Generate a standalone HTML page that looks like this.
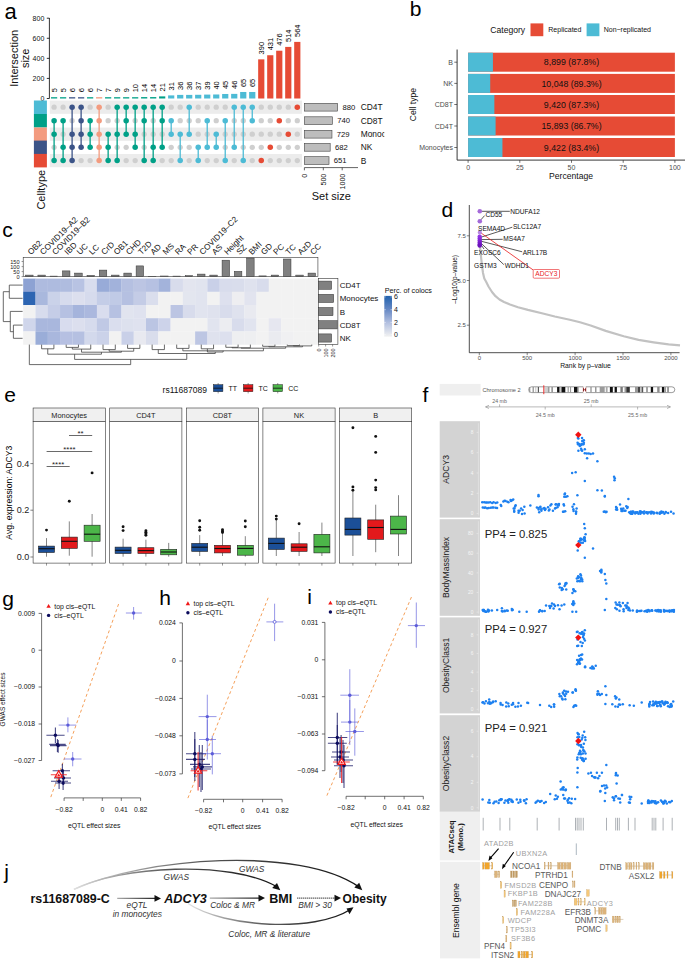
<!DOCTYPE html>
<html><head><meta charset="utf-8"><title>Figure</title>
<style>html,body{margin:0;padding:0;background:#fff;}svg{display:block;font-family:"Liberation Sans",sans-serif;}</style>
</head><body>
<svg width="685" height="964" viewBox="0 0 685 964">
<rect width="685" height="964" fill="#fff"/>
<text x="4.5" y="18.8" font-size="22" fill="#000">a</text>
<line x1="49.4" y1="18" x2="49.4" y2="98.5" stroke="#000" stroke-width="0.8"/>
<line x1="46.8" y1="98.5" x2="49.4" y2="98.5" stroke="#000" stroke-width="0.8"/>
<text x="44.3" y="101" font-size="7" text-anchor="end" fill="#111">0</text>
<line x1="46.8" y1="78.42" x2="49.4" y2="78.42" stroke="#000" stroke-width="0.8"/>
<text x="44.3" y="80.92" font-size="7" text-anchor="end" fill="#111">200</text>
<line x1="46.8" y1="58.35" x2="49.4" y2="58.35" stroke="#000" stroke-width="0.8"/>
<text x="44.3" y="60.85" font-size="7" text-anchor="end" fill="#111">400</text>
<line x1="46.8" y1="38.28" x2="49.4" y2="38.28" stroke="#000" stroke-width="0.8"/>
<text x="44.3" y="40.78" font-size="7" text-anchor="end" fill="#111">600</text>
<line x1="46.8" y1="18.2" x2="49.4" y2="18.2" stroke="#000" stroke-width="0.8"/>
<text x="44.3" y="20.7" font-size="7" text-anchor="end" fill="#111">800</text>
<text transform="translate(17.6,58.3) rotate(-90)" font-size="11" text-anchor="middle" fill="#111">Intersection</text>
<text transform="translate(29.4,58.3) rotate(-90)" font-size="11" text-anchor="middle" fill="#111">size</text>
<rect x="49.8" y="100.6" width="252.2" height="13.2" fill="#ececec"/>
<rect x="49.8" y="127.6" width="252.2" height="13.2" fill="#ececec"/>
<rect x="49.8" y="154" width="252.2" height="13.2" fill="#ececec"/>
<rect x="51" y="97.2" width="6.2" height="1.3" fill="#00A087"/>
<text transform="translate(56.8,92.3) rotate(-90)" font-size="7.5" fill="#000">5</text>
<circle cx="54.1" cy="107.2" r="2.65" fill="#cfcfcf"/>
<circle cx="54.1" cy="147.3" r="2.65" fill="#cfcfcf"/>
<line x1="54.1" y1="120.7" x2="54.1" y2="160.6" stroke="#00A087" stroke-width="1.3"/>
<circle cx="54.1" cy="120.7" r="2.75" fill="#00A087"/>
<circle cx="54.1" cy="134.2" r="2.75" fill="#00A087"/>
<circle cx="54.1" cy="160.6" r="2.75" fill="#00A087"/>
<rect x="60.01" y="97.2" width="6.2" height="1.3" fill="#00A087"/>
<text transform="translate(65.81,92.3) rotate(-90)" font-size="7.5" fill="#000">5</text>
<circle cx="63.11" cy="107.2" r="2.65" fill="#cfcfcf"/>
<circle cx="63.11" cy="134.2" r="2.65" fill="#cfcfcf"/>
<line x1="63.11" y1="120.7" x2="63.11" y2="160.6" stroke="#00A087" stroke-width="1.3"/>
<circle cx="63.11" cy="120.7" r="2.75" fill="#00A087"/>
<circle cx="63.11" cy="147.3" r="2.75" fill="#00A087"/>
<circle cx="63.11" cy="160.6" r="2.75" fill="#00A087"/>
<rect x="69.01" y="97.2" width="6.2" height="1.3" fill="#3C5488"/>
<text transform="translate(74.81,92.3) rotate(-90)" font-size="7.5" fill="#000">6</text>
<circle cx="72.11" cy="120.7" r="2.65" fill="#cfcfcf"/>
<line x1="72.11" y1="107.2" x2="72.11" y2="160.6" stroke="#3C5488" stroke-width="1.3"/>
<circle cx="72.11" cy="107.2" r="2.75" fill="#3C5488"/>
<circle cx="72.11" cy="134.2" r="2.75" fill="#3C5488"/>
<circle cx="72.11" cy="147.3" r="2.75" fill="#3C5488"/>
<circle cx="72.11" cy="160.6" r="2.75" fill="#3C5488"/>
<rect x="78.02" y="97.2" width="6.2" height="1.3" fill="#3C5488"/>
<text transform="translate(83.82,92.3) rotate(-90)" font-size="7.5" fill="#000">6</text>
<circle cx="81.12" cy="160.6" r="2.65" fill="#cfcfcf"/>
<line x1="81.12" y1="107.2" x2="81.12" y2="147.3" stroke="#3C5488" stroke-width="1.3"/>
<circle cx="81.12" cy="107.2" r="2.75" fill="#3C5488"/>
<circle cx="81.12" cy="120.7" r="2.75" fill="#3C5488"/>
<circle cx="81.12" cy="134.2" r="2.75" fill="#3C5488"/>
<circle cx="81.12" cy="147.3" r="2.75" fill="#3C5488"/>
<rect x="87.03" y="97.2" width="6.2" height="1.3" fill="#00A087"/>
<text transform="translate(92.83,92.3) rotate(-90)" font-size="7.5" fill="#000">6</text>
<circle cx="90.13" cy="107.2" r="2.65" fill="#cfcfcf"/>
<circle cx="90.13" cy="160.6" r="2.65" fill="#cfcfcf"/>
<line x1="90.13" y1="120.7" x2="90.13" y2="147.3" stroke="#00A087" stroke-width="1.3"/>
<circle cx="90.13" cy="120.7" r="2.75" fill="#00A087"/>
<circle cx="90.13" cy="134.2" r="2.75" fill="#00A087"/>
<circle cx="90.13" cy="147.3" r="2.75" fill="#00A087"/>
<rect x="96.03" y="97.2" width="6.2" height="1.3" fill="#F39B7F"/>
<text transform="translate(101.83,92.3) rotate(-90)" font-size="7.5" fill="#000">7</text>
<line x1="99.13" y1="107.2" x2="99.13" y2="160.6" stroke="#F39B7F" stroke-width="1.3"/>
<circle cx="99.13" cy="107.2" r="2.75" fill="#F39B7F"/>
<circle cx="99.13" cy="120.7" r="2.75" fill="#F39B7F"/>
<circle cx="99.13" cy="134.2" r="2.75" fill="#F39B7F"/>
<circle cx="99.13" cy="147.3" r="2.75" fill="#F39B7F"/>
<circle cx="99.13" cy="160.6" r="2.75" fill="#F39B7F"/>
<rect x="105.04" y="97.2" width="6.2" height="1.3" fill="#00A087"/>
<text transform="translate(110.84,92.3) rotate(-90)" font-size="7.5" fill="#000">7</text>
<circle cx="108.14" cy="107.2" r="2.65" fill="#cfcfcf"/>
<circle cx="108.14" cy="120.7" r="2.65" fill="#cfcfcf"/>
<line x1="108.14" y1="134.2" x2="108.14" y2="160.6" stroke="#00A087" stroke-width="1.3"/>
<circle cx="108.14" cy="134.2" r="2.75" fill="#00A087"/>
<circle cx="108.14" cy="147.3" r="2.75" fill="#00A087"/>
<circle cx="108.14" cy="160.6" r="2.75" fill="#00A087"/>
<rect x="114.05" y="97.2" width="6.2" height="1.3" fill="#00A087"/>
<text transform="translate(119.85,92.3) rotate(-90)" font-size="7.5" fill="#000">9</text>
<circle cx="117.15" cy="120.7" r="2.65" fill="#cfcfcf"/>
<circle cx="117.15" cy="147.3" r="2.65" fill="#cfcfcf"/>
<line x1="117.15" y1="107.2" x2="117.15" y2="160.6" stroke="#00A087" stroke-width="1.3"/>
<circle cx="117.15" cy="107.2" r="2.75" fill="#00A087"/>
<circle cx="117.15" cy="134.2" r="2.75" fill="#00A087"/>
<circle cx="117.15" cy="160.6" r="2.75" fill="#00A087"/>
<rect x="123.06" y="97.2" width="6.2" height="1.3" fill="#00A087"/>
<text transform="translate(128.86,92.3) rotate(-90)" font-size="7.5" fill="#000">9</text>
<circle cx="126.16" cy="147.3" r="2.65" fill="#cfcfcf"/>
<circle cx="126.16" cy="160.6" r="2.65" fill="#cfcfcf"/>
<line x1="126.16" y1="107.2" x2="126.16" y2="134.2" stroke="#00A087" stroke-width="1.3"/>
<circle cx="126.16" cy="107.2" r="2.75" fill="#00A087"/>
<circle cx="126.16" cy="120.7" r="2.75" fill="#00A087"/>
<circle cx="126.16" cy="134.2" r="2.75" fill="#00A087"/>
<rect x="132.06" y="97.2" width="6.2" height="1.3" fill="#00A087"/>
<text transform="translate(137.86,92.3) rotate(-90)" font-size="7.5" fill="#000">10</text>
<circle cx="135.16" cy="120.7" r="2.65" fill="#cfcfcf"/>
<circle cx="135.16" cy="160.6" r="2.65" fill="#cfcfcf"/>
<line x1="135.16" y1="107.2" x2="135.16" y2="147.3" stroke="#00A087" stroke-width="1.3"/>
<circle cx="135.16" cy="107.2" r="2.75" fill="#00A087"/>
<circle cx="135.16" cy="134.2" r="2.75" fill="#00A087"/>
<circle cx="135.16" cy="147.3" r="2.75" fill="#00A087"/>
<rect x="141.07" y="97.09" width="6.2" height="1.41" fill="#00A087"/>
<text transform="translate(146.87,92.19) rotate(-90)" font-size="7.5" fill="#000">14</text>
<circle cx="144.17" cy="134.2" r="2.65" fill="#cfcfcf"/>
<circle cx="144.17" cy="147.3" r="2.65" fill="#cfcfcf"/>
<line x1="144.17" y1="107.2" x2="144.17" y2="160.6" stroke="#00A087" stroke-width="1.3"/>
<circle cx="144.17" cy="107.2" r="2.75" fill="#00A087"/>
<circle cx="144.17" cy="120.7" r="2.75" fill="#00A087"/>
<circle cx="144.17" cy="160.6" r="2.75" fill="#00A087"/>
<rect x="150.08" y="97.09" width="6.2" height="1.41" fill="#00A087"/>
<text transform="translate(155.88,92.19) rotate(-90)" font-size="7.5" fill="#000">14</text>
<circle cx="153.18" cy="120.7" r="2.65" fill="#cfcfcf"/>
<circle cx="153.18" cy="134.2" r="2.65" fill="#cfcfcf"/>
<line x1="153.18" y1="107.2" x2="153.18" y2="160.6" stroke="#00A087" stroke-width="1.3"/>
<circle cx="153.18" cy="107.2" r="2.75" fill="#00A087"/>
<circle cx="153.18" cy="147.3" r="2.75" fill="#00A087"/>
<circle cx="153.18" cy="160.6" r="2.75" fill="#00A087"/>
<rect x="159.08" y="96.39" width="6.2" height="2.11" fill="#00A087"/>
<text transform="translate(164.88,91.49) rotate(-90)" font-size="7.5" fill="#000">21</text>
<circle cx="162.18" cy="134.2" r="2.65" fill="#cfcfcf"/>
<circle cx="162.18" cy="160.6" r="2.65" fill="#cfcfcf"/>
<line x1="162.18" y1="107.2" x2="162.18" y2="147.3" stroke="#00A087" stroke-width="1.3"/>
<circle cx="162.18" cy="107.2" r="2.75" fill="#00A087"/>
<circle cx="162.18" cy="120.7" r="2.75" fill="#00A087"/>
<circle cx="162.18" cy="147.3" r="2.75" fill="#00A087"/>
<rect x="168.09" y="95.39" width="6.2" height="3.11" fill="#4DBBD5"/>
<text transform="translate(173.89,90.49) rotate(-90)" font-size="7.5" fill="#000">31</text>
<circle cx="171.19" cy="107.2" r="2.65" fill="#cfcfcf"/>
<circle cx="171.19" cy="147.3" r="2.65" fill="#cfcfcf"/>
<circle cx="171.19" cy="160.6" r="2.65" fill="#cfcfcf"/>
<line x1="171.19" y1="120.7" x2="171.19" y2="134.2" stroke="#4DBBD5" stroke-width="1.3"/>
<circle cx="171.19" cy="120.7" r="2.75" fill="#4DBBD5"/>
<circle cx="171.19" cy="134.2" r="2.75" fill="#4DBBD5"/>
<rect x="177.1" y="94.89" width="6.2" height="3.61" fill="#4DBBD5"/>
<text transform="translate(182.9,89.99) rotate(-90)" font-size="7.5" fill="#000">36</text>
<circle cx="180.2" cy="107.2" r="2.65" fill="#cfcfcf"/>
<circle cx="180.2" cy="120.7" r="2.65" fill="#cfcfcf"/>
<circle cx="180.2" cy="147.3" r="2.65" fill="#cfcfcf"/>
<line x1="180.2" y1="134.2" x2="180.2" y2="160.6" stroke="#4DBBD5" stroke-width="1.3"/>
<circle cx="180.2" cy="134.2" r="2.75" fill="#4DBBD5"/>
<circle cx="180.2" cy="160.6" r="2.75" fill="#4DBBD5"/>
<rect x="186.1" y="94.89" width="6.2" height="3.61" fill="#4DBBD5"/>
<text transform="translate(191.9,89.99) rotate(-90)" font-size="7.5" fill="#000">36</text>
<circle cx="189.2" cy="120.7" r="2.65" fill="#cfcfcf"/>
<circle cx="189.2" cy="147.3" r="2.65" fill="#cfcfcf"/>
<circle cx="189.2" cy="160.6" r="2.65" fill="#cfcfcf"/>
<line x1="189.2" y1="107.2" x2="189.2" y2="134.2" stroke="#4DBBD5" stroke-width="1.3"/>
<circle cx="189.2" cy="107.2" r="2.75" fill="#4DBBD5"/>
<circle cx="189.2" cy="134.2" r="2.75" fill="#4DBBD5"/>
<rect x="195.11" y="94.79" width="6.2" height="3.71" fill="#4DBBD5"/>
<text transform="translate(200.91,89.89) rotate(-90)" font-size="7.5" fill="#000">37</text>
<circle cx="198.21" cy="107.2" r="2.65" fill="#cfcfcf"/>
<circle cx="198.21" cy="120.7" r="2.65" fill="#cfcfcf"/>
<circle cx="198.21" cy="134.2" r="2.65" fill="#cfcfcf"/>
<line x1="198.21" y1="147.3" x2="198.21" y2="160.6" stroke="#4DBBD5" stroke-width="1.3"/>
<circle cx="198.21" cy="147.3" r="2.75" fill="#4DBBD5"/>
<circle cx="198.21" cy="160.6" r="2.75" fill="#4DBBD5"/>
<rect x="204.12" y="94.59" width="6.2" height="3.91" fill="#4DBBD5"/>
<text transform="translate(209.92,89.69) rotate(-90)" font-size="7.5" fill="#000">39</text>
<circle cx="207.22" cy="107.2" r="2.65" fill="#cfcfcf"/>
<circle cx="207.22" cy="134.2" r="2.65" fill="#cfcfcf"/>
<circle cx="207.22" cy="160.6" r="2.65" fill="#cfcfcf"/>
<line x1="207.22" y1="120.7" x2="207.22" y2="147.3" stroke="#4DBBD5" stroke-width="1.3"/>
<circle cx="207.22" cy="120.7" r="2.75" fill="#4DBBD5"/>
<circle cx="207.22" cy="147.3" r="2.75" fill="#4DBBD5"/>
<rect x="213.13" y="94.48" width="6.2" height="4.01" fill="#4DBBD5"/>
<text transform="translate(218.93,89.58) rotate(-90)" font-size="7.5" fill="#000">40</text>
<circle cx="216.23" cy="107.2" r="2.65" fill="#cfcfcf"/>
<circle cx="216.23" cy="120.7" r="2.65" fill="#cfcfcf"/>
<circle cx="216.23" cy="160.6" r="2.65" fill="#cfcfcf"/>
<line x1="216.23" y1="134.2" x2="216.23" y2="147.3" stroke="#4DBBD5" stroke-width="1.3"/>
<circle cx="216.23" cy="134.2" r="2.75" fill="#4DBBD5"/>
<circle cx="216.23" cy="147.3" r="2.75" fill="#4DBBD5"/>
<rect x="222.13" y="93.98" width="6.2" height="4.52" fill="#4DBBD5"/>
<text transform="translate(227.93,89.08) rotate(-90)" font-size="7.5" fill="#000">45</text>
<circle cx="225.23" cy="107.2" r="2.65" fill="#cfcfcf"/>
<circle cx="225.23" cy="134.2" r="2.65" fill="#cfcfcf"/>
<circle cx="225.23" cy="147.3" r="2.65" fill="#cfcfcf"/>
<line x1="225.23" y1="120.7" x2="225.23" y2="160.6" stroke="#4DBBD5" stroke-width="1.3"/>
<circle cx="225.23" cy="120.7" r="2.75" fill="#4DBBD5"/>
<circle cx="225.23" cy="160.6" r="2.75" fill="#4DBBD5"/>
<rect x="231.14" y="93.88" width="6.2" height="4.62" fill="#4DBBD5"/>
<text transform="translate(236.94,88.98) rotate(-90)" font-size="7.5" fill="#000">46</text>
<circle cx="234.24" cy="120.7" r="2.65" fill="#cfcfcf"/>
<circle cx="234.24" cy="134.2" r="2.65" fill="#cfcfcf"/>
<circle cx="234.24" cy="160.6" r="2.65" fill="#cfcfcf"/>
<line x1="234.24" y1="107.2" x2="234.24" y2="147.3" stroke="#4DBBD5" stroke-width="1.3"/>
<circle cx="234.24" cy="107.2" r="2.75" fill="#4DBBD5"/>
<circle cx="234.24" cy="147.3" r="2.75" fill="#4DBBD5"/>
<rect x="240.15" y="91.98" width="6.2" height="6.52" fill="#4DBBD5"/>
<text transform="translate(245.95,87.08) rotate(-90)" font-size="7.5" fill="#000">65</text>
<circle cx="243.25" cy="120.7" r="2.65" fill="#cfcfcf"/>
<circle cx="243.25" cy="134.2" r="2.65" fill="#cfcfcf"/>
<circle cx="243.25" cy="147.3" r="2.65" fill="#cfcfcf"/>
<line x1="243.25" y1="107.2" x2="243.25" y2="160.6" stroke="#4DBBD5" stroke-width="1.3"/>
<circle cx="243.25" cy="107.2" r="2.75" fill="#4DBBD5"/>
<circle cx="243.25" cy="160.6" r="2.75" fill="#4DBBD5"/>
<rect x="249.15" y="91.98" width="6.2" height="6.52" fill="#4DBBD5"/>
<text transform="translate(254.95,87.08) rotate(-90)" font-size="7.5" fill="#000">65</text>
<circle cx="252.25" cy="134.2" r="2.65" fill="#cfcfcf"/>
<circle cx="252.25" cy="147.3" r="2.65" fill="#cfcfcf"/>
<circle cx="252.25" cy="160.6" r="2.65" fill="#cfcfcf"/>
<line x1="252.25" y1="107.2" x2="252.25" y2="120.7" stroke="#4DBBD5" stroke-width="1.3"/>
<circle cx="252.25" cy="107.2" r="2.75" fill="#4DBBD5"/>
<circle cx="252.25" cy="120.7" r="2.75" fill="#4DBBD5"/>
<rect x="258.16" y="59.35" width="6.2" height="39.15" fill="#E64B35"/>
<text transform="translate(263.96,54.45) rotate(-90)" font-size="7.5" fill="#000">390</text>
<circle cx="261.26" cy="107.2" r="2.65" fill="#cfcfcf"/>
<circle cx="261.26" cy="120.7" r="2.65" fill="#cfcfcf"/>
<circle cx="261.26" cy="134.2" r="2.65" fill="#cfcfcf"/>
<circle cx="261.26" cy="147.3" r="2.65" fill="#cfcfcf"/>
<circle cx="261.26" cy="160.6" r="2.75" fill="#E64B35"/>
<rect x="267.17" y="55.24" width="6.2" height="43.26" fill="#E64B35"/>
<text transform="translate(272.97,50.34) rotate(-90)" font-size="7.5" fill="#000">431</text>
<circle cx="270.27" cy="107.2" r="2.65" fill="#cfcfcf"/>
<circle cx="270.27" cy="120.7" r="2.65" fill="#cfcfcf"/>
<circle cx="270.27" cy="134.2" r="2.65" fill="#cfcfcf"/>
<circle cx="270.27" cy="160.6" r="2.65" fill="#cfcfcf"/>
<circle cx="270.27" cy="147.3" r="2.75" fill="#E64B35"/>
<rect x="276.17" y="50.72" width="6.2" height="47.78" fill="#E64B35"/>
<text transform="translate(281.97,45.82) rotate(-90)" font-size="7.5" fill="#000">476</text>
<circle cx="279.27" cy="107.2" r="2.65" fill="#cfcfcf"/>
<circle cx="279.27" cy="134.2" r="2.65" fill="#cfcfcf"/>
<circle cx="279.27" cy="147.3" r="2.65" fill="#cfcfcf"/>
<circle cx="279.27" cy="160.6" r="2.65" fill="#cfcfcf"/>
<circle cx="279.27" cy="120.7" r="2.75" fill="#E64B35"/>
<rect x="285.18" y="46.91" width="6.2" height="51.59" fill="#E64B35"/>
<text transform="translate(290.98,42.01) rotate(-90)" font-size="7.5" fill="#000">514</text>
<circle cx="288.28" cy="107.2" r="2.65" fill="#cfcfcf"/>
<circle cx="288.28" cy="120.7" r="2.65" fill="#cfcfcf"/>
<circle cx="288.28" cy="147.3" r="2.65" fill="#cfcfcf"/>
<circle cx="288.28" cy="160.6" r="2.65" fill="#cfcfcf"/>
<circle cx="288.28" cy="134.2" r="2.75" fill="#E64B35"/>
<rect x="294.19" y="41.89" width="6.2" height="56.61" fill="#E64B35"/>
<text transform="translate(299.99,36.99) rotate(-90)" font-size="7.5" fill="#000">564</text>
<circle cx="297.29" cy="120.7" r="2.65" fill="#cfcfcf"/>
<circle cx="297.29" cy="134.2" r="2.65" fill="#cfcfcf"/>
<circle cx="297.29" cy="147.3" r="2.65" fill="#cfcfcf"/>
<circle cx="297.29" cy="160.6" r="2.65" fill="#cfcfcf"/>
<circle cx="297.29" cy="107.2" r="2.75" fill="#E64B35"/>
<rect x="33.9" y="100.5" width="13" height="13.5" fill="#4DBBD5"/>
<rect x="33.9" y="114" width="13" height="13.5" fill="#00A087"/>
<rect x="33.9" y="127.5" width="13" height="13.5" fill="#F39B7F"/>
<rect x="33.9" y="140.6" width="13" height="13.5" fill="#3C5488"/>
<rect x="33.9" y="153.9" width="13" height="13.5" fill="#E64B35"/>
<text transform="translate(45,209.6) rotate(-90)" font-size="11" fill="#111">Celltype</text>
<rect x="304.4" y="103.3" width="33.26" height="7.8" fill="#bdbdbd" stroke="#444" stroke-width="0.6"/>
<text x="342.46" y="109.9" font-size="7.7" fill="#111">880</text>
<rect x="304.4" y="116.8" width="27.97" height="7.8" fill="#bdbdbd" stroke="#444" stroke-width="0.6"/>
<text x="337.17" y="123.4" font-size="7.7" fill="#111">740</text>
<rect x="304.4" y="130.3" width="27.56" height="7.8" fill="#bdbdbd" stroke="#444" stroke-width="0.6"/>
<text x="336.76" y="136.9" font-size="7.7" fill="#111">729</text>
<rect x="304.4" y="143.4" width="25.78" height="7.8" fill="#bdbdbd" stroke="#444" stroke-width="0.6"/>
<text x="334.98" y="150" font-size="7.7" fill="#111">682</text>
<rect x="304.4" y="156.7" width="24.61" height="7.8" fill="#bdbdbd" stroke="#444" stroke-width="0.6"/>
<text x="333.81" y="163.3" font-size="7.7" fill="#111">651</text>
<line x1="304.4" y1="167.6" x2="358" y2="167.6" stroke="#222" stroke-width="0.7"/>
<line x1="304.4" y1="167.6" x2="304.4" y2="170.3" stroke="#222" stroke-width="0.7"/>
<text transform="translate(306.9,173.8) rotate(-90)" font-size="7" text-anchor="end" fill="#111">0</text>
<line x1="323.3" y1="167.6" x2="323.3" y2="170.3" stroke="#222" stroke-width="0.7"/>
<text transform="translate(325.8,173.8) rotate(-90)" font-size="7" text-anchor="end" fill="#111">500</text>
<line x1="342.2" y1="167.6" x2="342.2" y2="170.3" stroke="#222" stroke-width="0.7"/>
<text transform="translate(344.7,173.8) rotate(-90)" font-size="7" text-anchor="end" fill="#111">1000</text>
<text x="331.3" y="200.4" font-size="11" text-anchor="middle" fill="#111">Set size</text>
<defs><clipPath id="clipA"><rect x="355" y="95" width="29.3" height="75"/></clipPath></defs>
<text x="360.7" y="110.2" font-size="8.4" fill="#111" clip-path="url(#clipA)">CD4T</text>
<text x="360.7" y="123.7" font-size="8.4" fill="#111" clip-path="url(#clipA)">CD8T</text>
<text x="360.7" y="137.2" font-size="8.4" fill="#111" clip-path="url(#clipA)">Monocytes</text>
<text x="360.7" y="150.3" font-size="8.4" fill="#111" clip-path="url(#clipA)">NK</text>
<text x="360.7" y="163.6" font-size="8.4" fill="#111" clip-path="url(#clipA)">B</text>
<text x="409.8" y="16.4" font-size="21" fill="#000">b</text>
<text x="490.3" y="32.8" font-size="8.6" fill="#111">Category</text>
<rect x="530.5" y="23.4" width="12.8" height="12.8" fill="#E64B35"/>
<text x="548.3" y="32.2" font-size="7" fill="#111">Replicated</text>
<rect x="586.6" y="23.4" width="12.8" height="12.8" fill="#4DBBD5"/>
<text x="603.7" y="32.2" font-size="7" fill="#111">Non−replicated</text>
<rect x="468.1" y="52.7" width="206.8" height="19" fill="#E64B35"/>
<rect x="468.1" y="52.7" width="24.82" height="19" fill="#4DBBD5"/>
<text x="571.5" y="65.3" font-size="8.8" text-anchor="middle" fill="#111">8,899 (87.8%)</text>
<line x1="454.3" y1="62.2" x2="457.1" y2="62.2" stroke="#333" stroke-width="0.7"/>
<text x="453" y="64.7" font-size="7" text-anchor="end" fill="#4d4d4d">B</text>
<rect x="468.1" y="73.9" width="206.8" height="19" fill="#E64B35"/>
<rect x="468.1" y="73.9" width="22.13" height="19" fill="#4DBBD5"/>
<text x="571.5" y="86.5" font-size="8.8" text-anchor="middle" fill="#111">10,048 (89.3%)</text>
<line x1="454.3" y1="83.4" x2="457.1" y2="83.4" stroke="#333" stroke-width="0.7"/>
<text x="453" y="85.9" font-size="7" text-anchor="end" fill="#4d4d4d">NK</text>
<rect x="468.1" y="95" width="206.8" height="19" fill="#E64B35"/>
<rect x="468.1" y="95" width="26.26" height="19" fill="#4DBBD5"/>
<text x="571.5" y="107.6" font-size="8.8" text-anchor="middle" fill="#111">9,420 (87.3%)</text>
<line x1="454.3" y1="104.5" x2="457.1" y2="104.5" stroke="#333" stroke-width="0.7"/>
<text x="453" y="107" font-size="7" text-anchor="end" fill="#4d4d4d">CD8T</text>
<rect x="468.1" y="116.5" width="206.8" height="19" fill="#E64B35"/>
<rect x="468.1" y="116.5" width="27.5" height="19" fill="#4DBBD5"/>
<text x="571.5" y="129.1" font-size="8.8" text-anchor="middle" fill="#111">15,893 (86.7%)</text>
<line x1="454.3" y1="126.0" x2="457.1" y2="126.0" stroke="#333" stroke-width="0.7"/>
<text x="453" y="128.5" font-size="7" text-anchor="end" fill="#4d4d4d">CD4T</text>
<rect x="468.1" y="138" width="206.8" height="19" fill="#E64B35"/>
<rect x="468.1" y="138" width="34.33" height="19" fill="#4DBBD5"/>
<text x="571.5" y="150.6" font-size="8.8" text-anchor="middle" fill="#111">9,422 (83.4%)</text>
<line x1="454.3" y1="147.5" x2="457.1" y2="147.5" stroke="#333" stroke-width="0.7"/>
<text x="453" y="150" font-size="7" text-anchor="end" fill="#4d4d4d">Monocytes</text>
<path d="M457.1 49.5 V160.1 H685" fill="none" stroke="#222" stroke-width="0.9"/>
<line x1="468.1" y1="160.1" x2="468.1" y2="162.8" stroke="#333" stroke-width="0.7"/>
<text x="468.1" y="169.6" font-size="7" text-anchor="middle" fill="#4d4d4d">0</text>
<line x1="519.8" y1="160.1" x2="519.8" y2="162.8" stroke="#333" stroke-width="0.7"/>
<text x="519.8" y="169.6" font-size="7" text-anchor="middle" fill="#4d4d4d">25</text>
<line x1="571.5" y1="160.1" x2="571.5" y2="162.8" stroke="#333" stroke-width="0.7"/>
<text x="571.5" y="169.6" font-size="7" text-anchor="middle" fill="#4d4d4d">50</text>
<line x1="623.2" y1="160.1" x2="623.2" y2="162.8" stroke="#333" stroke-width="0.7"/>
<text x="623.2" y="169.6" font-size="7" text-anchor="middle" fill="#4d4d4d">75</text>
<line x1="674.9" y1="160.1" x2="674.9" y2="162.8" stroke="#333" stroke-width="0.7"/>
<text x="674.9" y="169.6" font-size="7" text-anchor="middle" fill="#4d4d4d">100</text>
<text x="571" y="178.8" font-size="8.6" text-anchor="middle" fill="#111">Percentage</text>
<text transform="translate(415.6,104.6) rotate(-90)" font-size="8.6" text-anchor="middle" fill="#111">Cell type</text>
<text x="2.3" y="237.3" font-size="21" fill="#000">c</text>
<rect x="23.2" y="278.6" width="12.43" height="13.35" fill="#8da2d3"/>
<rect x="35.48" y="278.6" width="12.43" height="13.35" fill="#aebbdf"/>
<rect x="47.76" y="278.6" width="12.43" height="13.35" fill="#aebbdf"/>
<rect x="60.04" y="278.6" width="12.43" height="13.35" fill="#afbcdf"/>
<rect x="72.32" y="278.6" width="12.43" height="13.35" fill="#b8c3e3"/>
<rect x="84.6" y="278.6" width="12.43" height="13.35" fill="#d8ddee"/>
<rect x="96.88" y="278.6" width="12.43" height="13.35" fill="#98abd8"/>
<rect x="109.16" y="278.6" width="12.43" height="13.35" fill="#a2b2db"/>
<rect x="121.44" y="278.6" width="12.43" height="13.35" fill="#b5c0e1"/>
<rect x="133.72" y="278.6" width="12.43" height="13.35" fill="#bcc5e3"/>
<rect x="146" y="278.6" width="12.43" height="13.35" fill="#b6c1e2"/>
<rect x="158.28" y="278.6" width="12.43" height="13.35" fill="#a3b3db"/>
<rect x="170.56" y="278.6" width="12.43" height="13.35" fill="#d8dcec"/>
<rect x="182.84" y="278.6" width="12.43" height="13.35" fill="#e3e5ef"/>
<rect x="195.12" y="278.6" width="12.43" height="13.35" fill="#e1e4ef"/>
<rect x="207.4" y="278.6" width="12.43" height="13.35" fill="#c9d0e8"/>
<rect x="219.68" y="278.6" width="12.43" height="13.35" fill="#d8dcec"/>
<rect x="231.96" y="278.6" width="12.43" height="13.35" fill="#d9ddec"/>
<rect x="244.24" y="278.6" width="12.43" height="13.35" fill="#dfe2ee"/>
<rect x="256.52" y="278.6" width="12.43" height="13.35" fill="#d8dcec"/>
<rect x="268.8" y="278.6" width="12.43" height="13.35" fill="#f2f2f2"/>
<rect x="281.08" y="278.6" width="12.43" height="13.35" fill="#f2f2f2"/>
<rect x="293.36" y="278.6" width="12.43" height="13.35" fill="#f2f2f2"/>
<rect x="305.64" y="278.6" width="12.43" height="13.35" fill="#f2f2f2"/>
<rect x="23.2" y="291.8" width="12.43" height="13.35" fill="#2d65b2"/>
<rect x="35.48" y="291.8" width="12.43" height="13.35" fill="#a9b8dd"/>
<rect x="47.76" y="291.8" width="12.43" height="13.35" fill="#cad2e9"/>
<rect x="60.04" y="291.8" width="12.43" height="13.35" fill="#d6dbed"/>
<rect x="72.32" y="291.8" width="12.43" height="13.35" fill="#dcdfee"/>
<rect x="84.6" y="291.8" width="12.43" height="13.35" fill="#d6dbed"/>
<rect x="96.88" y="291.8" width="12.43" height="13.35" fill="#c4cde7"/>
<rect x="109.16" y="291.8" width="12.43" height="13.35" fill="#c0cae6"/>
<rect x="121.44" y="291.8" width="12.43" height="13.35" fill="#b5c0e1"/>
<rect x="133.72" y="291.8" width="12.43" height="13.35" fill="#c4cce6"/>
<rect x="146" y="291.8" width="12.43" height="13.35" fill="#dadeed"/>
<rect x="158.28" y="291.8" width="12.43" height="13.35" fill="#f2f2f2"/>
<rect x="170.56" y="291.8" width="12.43" height="13.35" fill="#f2f2f2"/>
<rect x="182.84" y="291.8" width="12.43" height="13.35" fill="#e3e6ef"/>
<rect x="195.12" y="291.8" width="12.43" height="13.35" fill="#e1e4ef"/>
<rect x="207.4" y="291.8" width="12.43" height="13.35" fill="#f2f2f2"/>
<rect x="219.68" y="291.8" width="12.43" height="13.35" fill="#dde0ee"/>
<rect x="231.96" y="291.8" width="12.43" height="13.35" fill="#eeeef1"/>
<rect x="244.24" y="291.8" width="12.43" height="13.35" fill="#e2e4ef"/>
<rect x="256.52" y="291.8" width="12.43" height="13.35" fill="#f2f2f2"/>
<rect x="268.8" y="291.8" width="12.43" height="13.35" fill="#f2f2f2"/>
<rect x="281.08" y="291.8" width="12.43" height="13.35" fill="#f2f2f2"/>
<rect x="293.36" y="291.8" width="12.43" height="13.35" fill="#f2f2f2"/>
<rect x="305.64" y="291.8" width="12.43" height="13.35" fill="#f2f2f2"/>
<rect x="23.2" y="305" width="12.43" height="13.35" fill="#f2f2f2"/>
<rect x="35.48" y="305" width="12.43" height="13.35" fill="#d7dced"/>
<rect x="47.76" y="305" width="12.43" height="13.35" fill="#c5cde7"/>
<rect x="60.04" y="305" width="12.43" height="13.35" fill="#b6c1e2"/>
<rect x="72.32" y="305" width="12.43" height="13.35" fill="#a5b4dc"/>
<rect x="84.6" y="305" width="12.43" height="13.35" fill="#abb8de"/>
<rect x="96.88" y="305" width="12.43" height="13.35" fill="#d9ddee"/>
<rect x="109.16" y="305" width="12.43" height="13.35" fill="#b6c1e2"/>
<rect x="121.44" y="305" width="12.43" height="13.35" fill="#e1e4ef"/>
<rect x="133.72" y="305" width="12.43" height="13.35" fill="#dfe2ef"/>
<rect x="146" y="305" width="12.43" height="13.35" fill="#f2f2f2"/>
<rect x="158.28" y="305" width="12.43" height="13.35" fill="#f2f2f2"/>
<rect x="170.56" y="305" width="12.43" height="13.35" fill="#bcc5e3"/>
<rect x="182.84" y="305" width="12.43" height="13.35" fill="#d8dcec"/>
<rect x="195.12" y="305" width="12.43" height="13.35" fill="#e1e4ef"/>
<rect x="207.4" y="305" width="12.43" height="13.35" fill="#dfe2ee"/>
<rect x="219.68" y="305" width="12.43" height="13.35" fill="#d8dcec"/>
<rect x="231.96" y="305" width="12.43" height="13.35" fill="#dfe2ee"/>
<rect x="244.24" y="305" width="12.43" height="13.35" fill="#e9eaf0"/>
<rect x="256.52" y="305" width="12.43" height="13.35" fill="#f2f2f2"/>
<rect x="268.8" y="305" width="12.43" height="13.35" fill="#f2f2f2"/>
<rect x="281.08" y="305" width="12.43" height="13.35" fill="#f2f2f2"/>
<rect x="293.36" y="305" width="12.43" height="13.35" fill="#f2f2f2"/>
<rect x="305.64" y="305" width="12.43" height="13.35" fill="#f2f2f2"/>
<rect x="23.2" y="318.2" width="12.43" height="13.35" fill="#d0d6eb"/>
<rect x="35.48" y="318.2" width="12.43" height="13.35" fill="#a9b7dd"/>
<rect x="47.76" y="318.2" width="12.43" height="13.35" fill="#a9b7dd"/>
<rect x="60.04" y="318.2" width="12.43" height="13.35" fill="#d8dcee"/>
<rect x="72.32" y="318.2" width="12.43" height="13.35" fill="#dcdfee"/>
<rect x="84.6" y="318.2" width="12.43" height="13.35" fill="#d6dbed"/>
<rect x="96.88" y="318.2" width="12.43" height="13.35" fill="#c0c9e5"/>
<rect x="109.16" y="318.2" width="12.43" height="13.35" fill="#dadeee"/>
<rect x="121.44" y="318.2" width="12.43" height="13.35" fill="#dde1ee"/>
<rect x="133.72" y="318.2" width="12.43" height="13.35" fill="#dfe2ef"/>
<rect x="146" y="318.2" width="12.43" height="13.35" fill="#bbc5e3"/>
<rect x="158.28" y="318.2" width="12.43" height="13.35" fill="#cdd3ea"/>
<rect x="170.56" y="318.2" width="12.43" height="13.35" fill="#f2f2f2"/>
<rect x="182.84" y="318.2" width="12.43" height="13.35" fill="#f2f2f2"/>
<rect x="195.12" y="318.2" width="12.43" height="13.35" fill="#f2f2f2"/>
<rect x="207.4" y="318.2" width="12.43" height="13.35" fill="#e1e4ef"/>
<rect x="219.68" y="318.2" width="12.43" height="13.35" fill="#ecedf1"/>
<rect x="231.96" y="318.2" width="12.43" height="13.35" fill="#d8dcec"/>
<rect x="244.24" y="318.2" width="12.43" height="13.35" fill="#e1e4ef"/>
<rect x="256.52" y="318.2" width="12.43" height="13.35" fill="#f2f2f2"/>
<rect x="268.8" y="318.2" width="12.43" height="13.35" fill="#e6e7f0"/>
<rect x="281.08" y="318.2" width="12.43" height="13.35" fill="#f2f2f2"/>
<rect x="293.36" y="318.2" width="12.43" height="13.35" fill="#f2f2f2"/>
<rect x="305.64" y="318.2" width="12.43" height="13.35" fill="#f2f2f2"/>
<rect x="23.2" y="331.4" width="12.43" height="13.35" fill="#f2f2f2"/>
<rect x="35.48" y="331.4" width="12.43" height="13.35" fill="#9aadd8"/>
<rect x="47.76" y="331.4" width="12.43" height="13.35" fill="#a9b7dd"/>
<rect x="60.04" y="331.4" width="12.43" height="13.35" fill="#b6c0e2"/>
<rect x="72.32" y="331.4" width="12.43" height="13.35" fill="#b5c0e1"/>
<rect x="84.6" y="331.4" width="12.43" height="13.35" fill="#d3d9ec"/>
<rect x="96.88" y="331.4" width="12.43" height="13.35" fill="#cbd2e9"/>
<rect x="109.16" y="331.4" width="12.43" height="13.35" fill="#f2f2f2"/>
<rect x="121.44" y="331.4" width="12.43" height="13.35" fill="#c9d0e8"/>
<rect x="133.72" y="331.4" width="12.43" height="13.35" fill="#e8e9f0"/>
<rect x="146" y="331.4" width="12.43" height="13.35" fill="#d9ddec"/>
<rect x="158.28" y="331.4" width="12.43" height="13.35" fill="#f2f2f2"/>
<rect x="170.56" y="331.4" width="12.43" height="13.35" fill="#f2f2f2"/>
<rect x="182.84" y="331.4" width="12.43" height="13.35" fill="#f2f2f2"/>
<rect x="195.12" y="331.4" width="12.43" height="13.35" fill="#bdc6e3"/>
<rect x="207.4" y="331.4" width="12.43" height="13.35" fill="#dfe2ee"/>
<rect x="219.68" y="331.4" width="12.43" height="13.35" fill="#dde0ee"/>
<rect x="231.96" y="331.4" width="12.43" height="13.35" fill="#eeeff1"/>
<rect x="244.24" y="331.4" width="12.43" height="13.35" fill="#eeeff1"/>
<rect x="256.52" y="331.4" width="12.43" height="13.35" fill="#f2f2f2"/>
<rect x="268.8" y="331.4" width="12.43" height="13.35" fill="#eaebf0"/>
<rect x="281.08" y="331.4" width="12.43" height="13.35" fill="#f0f0f2"/>
<rect x="293.36" y="331.4" width="12.43" height="13.35" fill="#f2f2f2"/>
<rect x="305.64" y="331.4" width="12.43" height="13.35" fill="#f2f2f2"/>
<rect x="23.2" y="257.5" width="294.72" height="19.1" fill="none" stroke="#333" stroke-width="0.6"/>
<rect x="25.6" y="275.1" width="7.5" height="1.5" fill="#808080" stroke="#333" stroke-width="0.5"/>
<rect x="37.88" y="275.1" width="7.5" height="1.5" fill="#808080" stroke="#333" stroke-width="0.5"/>
<rect x="50.16" y="276.1" width="7.5" height="0.5" fill="#808080" stroke="#333" stroke-width="0.5"/>
<rect x="62.44" y="270.9" width="7.5" height="5.7" fill="#808080" stroke="#333" stroke-width="0.5"/>
<rect x="74.72" y="273.1" width="7.5" height="3.5" fill="#808080" stroke="#333" stroke-width="0.5"/>
<rect x="87" y="275.4" width="7.5" height="1.2" fill="#808080" stroke="#333" stroke-width="0.5"/>
<rect x="99.28" y="270.1" width="7.5" height="6.5" fill="#808080" stroke="#333" stroke-width="0.5"/>
<rect x="111.56" y="275.1" width="7.5" height="1.5" fill="#808080" stroke="#333" stroke-width="0.5"/>
<rect x="123.84" y="273.1" width="7.5" height="3.5" fill="#808080" stroke="#333" stroke-width="0.5"/>
<rect x="136.12" y="265.9" width="7.5" height="10.7" fill="#808080" stroke="#333" stroke-width="0.5"/>
<rect x="148.4" y="276.3" width="7.5" height="0.3" fill="#808080" stroke="#333" stroke-width="0.5"/>
<rect x="160.68" y="276" width="7.5" height="0.6" fill="#808080" stroke="#333" stroke-width="0.5"/>
<rect x="172.96" y="276.1" width="7.5" height="0.5" fill="#808080" stroke="#333" stroke-width="0.5"/>
<rect x="185.24" y="275.6" width="7.5" height="1" fill="#808080" stroke="#333" stroke-width="0.5"/>
<rect x="197.52" y="274.1" width="7.5" height="2.5" fill="#808080" stroke="#333" stroke-width="0.5"/>
<rect x="209.8" y="275.1" width="7.5" height="1.5" fill="#808080" stroke="#333" stroke-width="0.5"/>
<rect x="222.08" y="260.2" width="7.5" height="16.4" fill="#808080" stroke="#333" stroke-width="0.5"/>
<rect x="234.36" y="271.4" width="7.5" height="5.2" fill="#808080" stroke="#333" stroke-width="0.5"/>
<rect x="246.64" y="258" width="7.5" height="18.6" fill="#808080" stroke="#333" stroke-width="0.5"/>
<rect x="258.92" y="275.9" width="7.5" height="0.7" fill="#808080" stroke="#333" stroke-width="0.5"/>
<rect x="271.2" y="275.1" width="7.5" height="1.5" fill="#808080" stroke="#333" stroke-width="0.5"/>
<rect x="283.48" y="259" width="7.5" height="17.6" fill="#808080" stroke="#333" stroke-width="0.5"/>
<rect x="295.76" y="275.1" width="7.5" height="1.5" fill="#808080" stroke="#333" stroke-width="0.5"/>
<rect x="308.04" y="273.1" width="7.5" height="3.5" fill="#808080" stroke="#333" stroke-width="0.5"/>
<line x1="21.6" y1="261.5" x2="23.2" y2="261.5" stroke="#333" stroke-width="0.5"/>
<text x="19.6" y="263.5" font-size="5.6" text-anchor="end" fill="#222">150</text>
<line x1="21.6" y1="266.6" x2="23.2" y2="266.6" stroke="#333" stroke-width="0.5"/>
<text x="19.6" y="268.6" font-size="5.6" text-anchor="end" fill="#222">100</text>
<line x1="21.6" y1="271.6" x2="23.2" y2="271.6" stroke="#333" stroke-width="0.5"/>
<text x="19.6" y="273.6" font-size="5.6" text-anchor="end" fill="#222">50</text>
<line x1="21.6" y1="276.6" x2="23.2" y2="276.6" stroke="#333" stroke-width="0.5"/>
<text x="19.6" y="278.6" font-size="5.6" text-anchor="end" fill="#222">0</text>
<text transform="translate(30.94,255.3) rotate(-45)" font-size="8.2" fill="#111">OB2</text>
<text transform="translate(43.22,255.3) rotate(-45)" font-size="8.2" fill="#111">COVID19–A2</text>
<text transform="translate(55.5,255.3) rotate(-45)" font-size="8.2" fill="#111">COVID19–B2</text>
<text transform="translate(67.78,255.3) rotate(-45)" font-size="8.2" fill="#111">IBD</text>
<text transform="translate(80.06,255.3) rotate(-45)" font-size="8.2" fill="#111">UC</text>
<text transform="translate(92.34,255.3) rotate(-45)" font-size="8.2" fill="#111">LC</text>
<text transform="translate(104.62,255.3) rotate(-45)" font-size="8.2" fill="#111">CrD</text>
<text transform="translate(116.9,255.3) rotate(-45)" font-size="8.2" fill="#111">OB1</text>
<text transform="translate(129.18,255.3) rotate(-45)" font-size="8.2" fill="#111">CHD</text>
<text transform="translate(141.46,255.3) rotate(-45)" font-size="8.2" fill="#111">T2D</text>
<text transform="translate(153.74,255.3) rotate(-45)" font-size="8.2" fill="#111">AD</text>
<text transform="translate(166.02,255.3) rotate(-45)" font-size="8.2" fill="#111">MS</text>
<text transform="translate(178.3,255.3) rotate(-45)" font-size="8.2" fill="#111">RA</text>
<text transform="translate(190.58,255.3) rotate(-45)" font-size="8.2" fill="#111">PR</text>
<text transform="translate(202.86,255.3) rotate(-45)" font-size="8.2" fill="#111">COVID19–C2</text>
<text transform="translate(215.14,255.3) rotate(-45)" font-size="8.2" fill="#111">AS</text>
<text transform="translate(227.42,255.3) rotate(-45)" font-size="8.2" fill="#111">Height</text>
<text transform="translate(239.7,255.3) rotate(-45)" font-size="8.2" fill="#111">SZ</text>
<text transform="translate(251.98,255.3) rotate(-45)" font-size="8.2" fill="#111">BMI</text>
<text transform="translate(264.26,255.3) rotate(-45)" font-size="8.2" fill="#111">GD</text>
<text transform="translate(276.54,255.3) rotate(-45)" font-size="8.2" fill="#111">PC</text>
<text transform="translate(288.82,255.3) rotate(-45)" font-size="8.2" fill="#111">TC</text>
<text transform="translate(301.1,255.3) rotate(-45)" font-size="8.2" fill="#111">AzD</text>
<text transform="translate(313.38,255.3) rotate(-45)" font-size="8.2" fill="#111">CC</text>
<rect x="318.4" y="278.6" width="19.5" height="66" fill="none" stroke="#333" stroke-width="0.6"/>
<rect x="318.4" y="281.1" width="13.2" height="8.2" fill="#808080" stroke="#333" stroke-width="0.5"/>
<rect x="318.4" y="294.3" width="15.3" height="8.2" fill="#808080" stroke="#333" stroke-width="0.5"/>
<rect x="318.4" y="307.5" width="14.6" height="8.2" fill="#808080" stroke="#333" stroke-width="0.5"/>
<rect x="318.4" y="320.7" width="18.8" height="8.2" fill="#808080" stroke="#333" stroke-width="0.5"/>
<rect x="318.4" y="333.9" width="13.2" height="8.2" fill="#808080" stroke="#333" stroke-width="0.5"/>
<line x1="318.7" y1="344.5" x2="318.7" y2="346.5" stroke="#333" stroke-width="0.5"/>
<text transform="translate(320.6,348.4) rotate(-90)" font-size="5.5" text-anchor="end" fill="#222">0</text>
<line x1="325.6" y1="344.5" x2="325.6" y2="346.5" stroke="#333" stroke-width="0.5"/>
<text transform="translate(327.5,348.4) rotate(-90)" font-size="5.5" text-anchor="end" fill="#222">100</text>
<line x1="332.6" y1="344.5" x2="332.6" y2="346.5" stroke="#333" stroke-width="0.5"/>
<text transform="translate(334.5,348.4) rotate(-90)" font-size="5.5" text-anchor="end" fill="#222">200</text>
<text x="339.7" y="288.1" font-size="8" fill="#111">CD4T</text>
<text x="339.7" y="301.3" font-size="8" fill="#111">Monocytes</text>
<text x="339.7" y="314.5" font-size="8" fill="#111">B</text>
<text x="339.7" y="327.7" font-size="8" fill="#111">CD8T</text>
<text x="339.7" y="340.9" font-size="8" fill="#111">NK</text>
<defs><linearGradient id="cg" x1="0" y1="0" x2="0" y2="1"><stop offset="0" stop-color="#2262ad"/><stop offset="0.33" stop-color="#6688c4"/><stop offset="0.66" stop-color="#b3c0e0"/><stop offset="1" stop-color="#f2f2f2"/></linearGradient></defs>
<text x="384.8" y="292.6" font-size="7.2" fill="#111">Perc. of colocs</text>
<rect x="384.3" y="295.9" width="7.7" height="40.8" fill="url(#cg)"/>
<line x1="384.3" y1="296.9" x2="385.8" y2="296.9" stroke="#fff" stroke-width="0.5"/>
<line x1="390.5" y1="296.9" x2="392" y2="296.9" stroke="#fff" stroke-width="0.5"/>
<text x="394" y="299.4" font-size="7" fill="#111">6</text>
<line x1="384.3" y1="309.7" x2="385.8" y2="309.7" stroke="#fff" stroke-width="0.5"/>
<line x1="390.5" y1="309.7" x2="392" y2="309.7" stroke="#fff" stroke-width="0.5"/>
<text x="394" y="312.2" font-size="7" fill="#111">4</text>
<line x1="384.3" y1="322.4" x2="385.8" y2="322.4" stroke="#fff" stroke-width="0.5"/>
<line x1="390.5" y1="322.4" x2="392" y2="322.4" stroke="#fff" stroke-width="0.5"/>
<text x="394" y="324.9" font-size="7" fill="#111">2</text>
<line x1="384.3" y1="334.7" x2="385.8" y2="334.7" stroke="#fff" stroke-width="0.5"/>
<line x1="390.5" y1="334.7" x2="392" y2="334.7" stroke="#fff" stroke-width="0.5"/>
<text x="394" y="337.2" font-size="7" fill="#111">0</text>
<path d="M22.6 285.1 H9.3 V298.3 H22.6 M9.3 291.7 H3.3 V321.6 H10.3 M22.6 311.4 H10.3 V331.7 H13.4 M22.6 325.1 H13.4 V338.3 H22.6" fill="none" stroke="#444" stroke-width="0.8"/>
<path d="M41.62 344.6 V348.8 H53.9 V344.6 M66.18 344.6 V347.4 H78.46 V344.6 M72.32 347.4 V349.1 H90.74 V344.6 M103.02 344.6 V349.6 H115.3 V344.6 M127.58 344.6 V348.4 H139.86 V344.6 M109.16 349.6 V351.2 H133.72 V348.4 M81.53 349.1 V352.2 H121.44 V351.2 M47.76 348.8 V354.2 H101.48 V352.2 M152.14 344.6 V349.6 H164.42 V344.6 M176.7 344.6 V348.4 H188.98 V344.6 M201.26 344.6 V348.8 H213.54 V344.6 M225.82 344.6 V347.3 H238.1 V344.6 M231.96 347.3 V347.8 H250.38 V344.6 M287.22 344.6 V345.6 H299.5 V344.6 M293.36 345.6 V345.9 H311.78 V344.6 M262.66 344.6 V346.3 H274.94 V344.6 M268.8 346.3 V346.8 H302.57 V345.9 M241.17 347.8 V348.2 H285.68 V346.8 M182.84 348.4 V350.8 H263.43 V348.2 M207.4 348.8 V352 H223.13 V350.8 M158.28 349.6 V353.5 H215.27 V352 M74.62 354.2 V359.4 H186.77 V353.5 M29.34 344.6 V364.6 H130.7 V359.4" fill="none" stroke="#444" stroke-width="0.8"/>
<text x="441.5" y="216.8" font-size="21" fill="#000">d</text>
<path d="M469.3 205 V352.7 H679.6" fill="none" stroke="#222" stroke-width="0.8"/>
<line x1="466.8" y1="235.8" x2="469.3" y2="235.8" stroke="#333" stroke-width="0.6"/>
<text x="465.8" y="237.9" font-size="6" text-anchor="end" fill="#4d4d4d">7.5</text>
<line x1="466.8" y1="280.5" x2="469.3" y2="280.5" stroke="#333" stroke-width="0.6"/>
<text x="465.8" y="282.6" font-size="6" text-anchor="end" fill="#4d4d4d">5.0</text>
<line x1="466.8" y1="325.2" x2="469.3" y2="325.2" stroke="#333" stroke-width="0.6"/>
<text x="465.8" y="327.3" font-size="6" text-anchor="end" fill="#4d4d4d">2.5</text>
<line x1="479.3" y1="352.7" x2="479.3" y2="355.2" stroke="#333" stroke-width="0.6"/>
<text x="479.3" y="360.2" font-size="6" text-anchor="middle" fill="#4d4d4d">0</text>
<line x1="527.2" y1="352.7" x2="527.2" y2="355.2" stroke="#333" stroke-width="0.6"/>
<text x="527.2" y="360.2" font-size="6" text-anchor="middle" fill="#4d4d4d">500</text>
<line x1="575.1" y1="352.7" x2="575.1" y2="355.2" stroke="#333" stroke-width="0.6"/>
<text x="575.1" y="360.2" font-size="6" text-anchor="middle" fill="#4d4d4d">1000</text>
<line x1="623" y1="352.7" x2="623" y2="355.2" stroke="#333" stroke-width="0.6"/>
<text x="623" y="360.2" font-size="6" text-anchor="middle" fill="#4d4d4d">1500</text>
<line x1="670.9" y1="352.7" x2="670.9" y2="355.2" stroke="#333" stroke-width="0.6"/>
<text x="670.9" y="360.2" font-size="6" text-anchor="middle" fill="#4d4d4d">2000</text>
<text x="585.5" y="367.8" font-size="6.8" text-anchor="middle" fill="#111">Rank by p–value</text>
<text transform="translate(456.8,279.4) rotate(-90)" font-size="6.5" text-anchor="middle" fill="#111">–Log10(p–value)</text>
<polyline points="479.8,242 480.3,250 481.2,258.5 482.2,267 483,272.9 484.3,278.5 486,281.5 488.5,286.5 492,292 495.5,296.2 499.5,299.5 504,302 510,304.5 518,307.2 527.9,309.9 542.9,313.5 554.8,316.5 569.8,319.8 580,322.3 590.7,325.5 605.7,330.9 623.7,336.3 638.6,339.9 653.6,342.3 668.6,344.4 680,345.4" fill="none" stroke="#c2c2c2" stroke-width="2.2" stroke-linejoin="round"/>
<line x1="481.5" y1="211.3" x2="509.8" y2="211.3" stroke="#111" stroke-width="0.7"/>
<line x1="480.9" y1="219.8" x2="484.6" y2="215.6" stroke="#111" stroke-width="0.7"/>
<line x1="481" y1="237.2" x2="512.3" y2="227.2" stroke="#111" stroke-width="0.7"/>
<line x1="481" y1="239.6" x2="502.7" y2="239.3" stroke="#111" stroke-width="0.7"/>
<line x1="481" y1="241.2" x2="522.2" y2="251.8" stroke="#111" stroke-width="0.7"/>
<line x1="481" y1="243.2" x2="503.8" y2="264.6" stroke="#111" stroke-width="0.7"/>
<line x1="480.8" y1="244.5" x2="484" y2="249" stroke="#111" stroke-width="0.7"/>
<line x1="480.5" y1="232.6" x2="533.5" y2="270.2" stroke="#e8191c" stroke-width="0.8"/>
<circle cx="479.8" cy="211.3" r="2.3" fill="#a56ad9"/>
<circle cx="479.8" cy="221.3" r="2.3" fill="#a36ad8"/>
<circle cx="479.8" cy="232.4" r="2.1" fill="#b88ae2"/>
<circle cx="479.7" cy="236.6" r="2.2" fill="#9436e6"/>
<circle cx="479.7" cy="238.6" r="2.2" fill="#8a2ddf"/>
<circle cx="479.7" cy="240.6" r="2.2" fill="#8426d8"/>
<circle cx="479.7" cy="242.6" r="2.2" fill="#7b1fcf"/>
<circle cx="479.7" cy="244.4" r="2.2" fill="#7418c6"/>
<circle cx="479.7" cy="245.6" r="2.2" fill="#6c14bc"/>
<text x="510.3" y="213.9" font-size="6.6" fill="#111">NDUFA12</text>
<text x="485.4" y="217.2" font-size="6.6" fill="#111">CD55</text>
<text x="478" y="230.6" font-size="6.6" fill="#111">SEMA4D</text>
<text x="512.9" y="228.5" font-size="6.6" fill="#111">SLC12A7</text>
<text x="503.3" y="241.4" font-size="6.6" fill="#111">MS4A7</text>
<text x="522.7" y="254.8" font-size="6.6" fill="#111">ARL17B</text>
<text x="474" y="254.8" font-size="6.6" fill="#111">EXOSC6</text>
<text x="474" y="268.3" font-size="6.6" fill="#111">GSTM3</text>
<text x="504.7" y="268.3" font-size="6.6" fill="#111">WDHD1</text>
<rect x="533.2" y="269.5" width="26.3" height="8.7" rx="1" fill="#fff" stroke="#e8191c" stroke-width="0.6"/>
<text x="546.35" y="276.4" font-size="6.6" text-anchor="middle" fill="#e8191c">ADCY3</text>
<text x="4.3" y="401.9" font-size="21" fill="#000">e</text>
<text x="162.6" y="392.6" font-size="8.5" fill="#111">rs11687089</text>
<line x1="218.15" y1="383" x2="218.15" y2="393.4" stroke="#333" stroke-width="0.5"/>
<rect x="213.4" y="384.7" width="9.5" height="7" fill="#1b4f98" stroke="#222" stroke-width="0.5"/>
<line x1="213.4" y1="388.2" x2="222.9" y2="388.2" stroke="#111" stroke-width="0.8"/>
<text x="228.6" y="390.7" font-size="7" fill="#111">TT</text>
<line x1="248.15" y1="383" x2="248.15" y2="393.4" stroke="#333" stroke-width="0.5"/>
<rect x="243.4" y="384.7" width="9.5" height="7" fill="#e3191c" stroke="#222" stroke-width="0.5"/>
<line x1="243.4" y1="388.2" x2="252.9" y2="388.2" stroke="#111" stroke-width="0.8"/>
<text x="258.6" y="390.7" font-size="7" fill="#111">TC</text>
<line x1="277.75" y1="383" x2="277.75" y2="393.4" stroke="#333" stroke-width="0.5"/>
<rect x="273" y="384.7" width="9.5" height="7" fill="#4cb649" stroke="#222" stroke-width="0.5"/>
<line x1="273" y1="388.2" x2="282.5" y2="388.2" stroke="#111" stroke-width="0.8"/>
<text x="288.2" y="390.7" font-size="7" fill="#111">CC</text>
<rect x="33.1" y="408" width="72.2" height="13.5" fill="#f0f0f0" stroke="#333" stroke-width="0.6"/>
<text x="69.2" y="417.6" font-size="7.4" text-anchor="middle" fill="#222">Monocytes</text>
<rect x="33.1" y="421.5" width="72.2" height="141.6" fill="#fff" stroke="#333" stroke-width="0.6"/>
<line x1="46.5" y1="563.1" x2="46.5" y2="565.6" stroke="#333" stroke-width="0.5"/>
<line x1="46.5" y1="538.1" x2="46.5" y2="556.7" stroke="#333" stroke-width="0.6"/>
<rect x="38.5" y="546.1" width="16" height="6.4" fill="#1b4f98" stroke="#222" stroke-width="0.6"/>
<line x1="38.5" y1="548.7" x2="54.5" y2="548.7" stroke="#111" stroke-width="1.1"/>
<circle cx="46.5" cy="530.1" r="1.45" fill="#111"/>
<line x1="69.3" y1="563.1" x2="69.3" y2="565.6" stroke="#333" stroke-width="0.5"/>
<line x1="69.3" y1="521.4" x2="69.3" y2="555.7" stroke="#333" stroke-width="0.6"/>
<rect x="61.3" y="537.1" width="16" height="11.3" fill="#e3191c" stroke="#222" stroke-width="0.6"/>
<line x1="61.3" y1="541.3" x2="77.3" y2="541.3" stroke="#111" stroke-width="1.1"/>
<circle cx="69.3" cy="501.2" r="1.45" fill="#111"/>
<line x1="92.1" y1="563.1" x2="92.1" y2="565.6" stroke="#333" stroke-width="0.5"/>
<line x1="92.1" y1="514" x2="92.1" y2="556.7" stroke="#333" stroke-width="0.6"/>
<rect x="84.1" y="525.2" width="16" height="16.1" fill="#4cb649" stroke="#222" stroke-width="0.6"/>
<line x1="84.1" y1="534.2" x2="100.1" y2="534.2" stroke="#111" stroke-width="1.1"/>
<circle cx="92.1" cy="472.9" r="1.45" fill="#111"/>
<rect x="109.7" y="408" width="72.2" height="13.5" fill="#f0f0f0" stroke="#333" stroke-width="0.6"/>
<text x="145.8" y="417.6" font-size="7.4" text-anchor="middle" fill="#222">CD4T</text>
<rect x="109.7" y="421.5" width="72.2" height="141.6" fill="#fff" stroke="#333" stroke-width="0.6"/>
<line x1="123.1" y1="563.1" x2="123.1" y2="565.6" stroke="#333" stroke-width="0.5"/>
<line x1="123.1" y1="538.7" x2="123.1" y2="556.7" stroke="#333" stroke-width="0.6"/>
<rect x="115.1" y="547.1" width="16" height="6.4" fill="#1b4f98" stroke="#222" stroke-width="0.6"/>
<line x1="115.1" y1="550.3" x2="131.1" y2="550.3" stroke="#111" stroke-width="1.1"/>
<circle cx="123.1" cy="526.8" r="1.45" fill="#111"/>
<circle cx="123.1" cy="530.6" r="1.45" fill="#111"/>
<line x1="145.9" y1="563.1" x2="145.9" y2="565.6" stroke="#333" stroke-width="0.5"/>
<line x1="145.9" y1="539.7" x2="145.9" y2="556.7" stroke="#333" stroke-width="0.6"/>
<rect x="137.9" y="547.7" width="16" height="5.8" fill="#e3191c" stroke="#222" stroke-width="0.6"/>
<line x1="137.9" y1="550.6" x2="153.9" y2="550.6" stroke="#111" stroke-width="1.1"/>
<circle cx="145.9" cy="530.8" r="1.45" fill="#111"/>
<circle cx="145.9" cy="532.3" r="1.45" fill="#111"/>
<circle cx="145.9" cy="533.8" r="1.45" fill="#111"/>
<circle cx="145.9" cy="535.3" r="1.45" fill="#111"/>
<line x1="168.7" y1="563.1" x2="168.7" y2="565.6" stroke="#333" stroke-width="0.5"/>
<line x1="168.7" y1="542.9" x2="168.7" y2="556.7" stroke="#333" stroke-width="0.6"/>
<rect x="160.7" y="549.3" width="16" height="5.5" fill="#4cb649" stroke="#222" stroke-width="0.6"/>
<line x1="160.7" y1="552" x2="176.7" y2="552" stroke="#111" stroke-width="1.1"/>
<rect x="186.3" y="408" width="72.2" height="13.5" fill="#f0f0f0" stroke="#333" stroke-width="0.6"/>
<text x="222.4" y="417.6" font-size="7.4" text-anchor="middle" fill="#222">CD8T</text>
<rect x="186.3" y="421.5" width="72.2" height="141.6" fill="#fff" stroke="#333" stroke-width="0.6"/>
<line x1="199.7" y1="563.1" x2="199.7" y2="565.6" stroke="#333" stroke-width="0.5"/>
<line x1="199.7" y1="535.1" x2="199.7" y2="556" stroke="#333" stroke-width="0.6"/>
<rect x="191.7" y="543.4" width="16" height="8" fill="#1b4f98" stroke="#222" stroke-width="0.6"/>
<line x1="191.7" y1="547.2" x2="207.7" y2="547.2" stroke="#111" stroke-width="1.1"/>
<circle cx="199.7" cy="520.7" r="1.45" fill="#111"/>
<circle cx="199.7" cy="527.3" r="1.45" fill="#111"/>
<circle cx="199.7" cy="530.3" r="1.45" fill="#111"/>
<line x1="222.5" y1="563.1" x2="222.5" y2="565.6" stroke="#333" stroke-width="0.5"/>
<line x1="222.5" y1="534" x2="222.5" y2="556" stroke="#333" stroke-width="0.6"/>
<rect x="214.5" y="545.3" width="16" height="7.6" fill="#e3191c" stroke="#222" stroke-width="0.6"/>
<line x1="214.5" y1="548.5" x2="230.5" y2="548.5" stroke="#111" stroke-width="1.1"/>
<circle cx="222.5" cy="529.8" r="1.45" fill="#111"/>
<circle cx="222.5" cy="531.3" r="1.45" fill="#111"/>
<circle cx="222.5" cy="532.6" r="1.45" fill="#111"/>
<line x1="245.3" y1="563.1" x2="245.3" y2="565.6" stroke="#333" stroke-width="0.5"/>
<line x1="245.3" y1="536.2" x2="245.3" y2="556.7" stroke="#333" stroke-width="0.6"/>
<rect x="237.3" y="545.3" width="16" height="9.9" fill="#4cb649" stroke="#222" stroke-width="0.6"/>
<line x1="237.3" y1="548.4" x2="253.3" y2="548.4" stroke="#111" stroke-width="1.1"/>
<circle cx="245.3" cy="521" r="1.45" fill="#111"/>
<circle cx="245.3" cy="526.7" r="1.45" fill="#111"/>
<rect x="262.9" y="408" width="72.2" height="13.5" fill="#f0f0f0" stroke="#333" stroke-width="0.6"/>
<text x="299" y="417.6" font-size="7.4" text-anchor="middle" fill="#222">NK</text>
<rect x="262.9" y="421.5" width="72.2" height="141.6" fill="#fff" stroke="#333" stroke-width="0.6"/>
<line x1="276.3" y1="563.1" x2="276.3" y2="565.6" stroke="#333" stroke-width="0.5"/>
<line x1="276.3" y1="519.9" x2="276.3" y2="556" stroke="#333" stroke-width="0.6"/>
<rect x="268.3" y="538.1" width="16" height="11.4" fill="#1b4f98" stroke="#222" stroke-width="0.6"/>
<line x1="268.3" y1="543.4" x2="284.3" y2="543.4" stroke="#111" stroke-width="1.1"/>
<circle cx="276.3" cy="516.1" r="1.45" fill="#111"/>
<circle cx="276.3" cy="519.1" r="1.45" fill="#111"/>
<line x1="299.1" y1="563.1" x2="299.1" y2="565.6" stroke="#333" stroke-width="0.5"/>
<line x1="299.1" y1="532" x2="299.1" y2="556" stroke="#333" stroke-width="0.6"/>
<rect x="291.1" y="543.8" width="16" height="7.6" fill="#e3191c" stroke="#222" stroke-width="0.6"/>
<line x1="291.1" y1="547.2" x2="307.1" y2="547.2" stroke="#111" stroke-width="1.1"/>
<circle cx="299.1" cy="523.7" r="1.45" fill="#111"/>
<line x1="321.9" y1="563.1" x2="321.9" y2="565.6" stroke="#333" stroke-width="0.5"/>
<line x1="321.9" y1="522.6" x2="321.9" y2="556" stroke="#333" stroke-width="0.6"/>
<rect x="313.9" y="534.3" width="16" height="18.6" fill="#4cb649" stroke="#222" stroke-width="0.6"/>
<line x1="313.9" y1="546.8" x2="329.9" y2="546.8" stroke="#111" stroke-width="1.1"/>
<rect x="339.5" y="408" width="72.2" height="13.5" fill="#f0f0f0" stroke="#333" stroke-width="0.6"/>
<text x="375.6" y="417.6" font-size="7.4" text-anchor="middle" fill="#222">B</text>
<rect x="339.5" y="421.5" width="72.2" height="141.6" fill="#fff" stroke="#333" stroke-width="0.6"/>
<line x1="352.9" y1="563.1" x2="352.9" y2="565.6" stroke="#333" stroke-width="0.5"/>
<line x1="352.9" y1="491.4" x2="352.9" y2="556" stroke="#333" stroke-width="0.6"/>
<rect x="344.9" y="518" width="16" height="17.1" fill="#1b4f98" stroke="#222" stroke-width="0.6"/>
<line x1="344.9" y1="529.4" x2="360.9" y2="529.4" stroke="#111" stroke-width="1.1"/>
<circle cx="352.9" cy="427.7" r="1.45" fill="#111"/>
<circle cx="352.9" cy="486.9" r="1.45" fill="#111"/>
<circle cx="352.9" cy="490.3" r="1.45" fill="#111"/>
<line x1="375.7" y1="563.1" x2="375.7" y2="565.6" stroke="#333" stroke-width="0.5"/>
<line x1="375.7" y1="504.7" x2="375.7" y2="552.2" stroke="#333" stroke-width="0.6"/>
<rect x="367.7" y="519.9" width="16" height="19.4" fill="#e3191c" stroke="#222" stroke-width="0.6"/>
<line x1="367.7" y1="527.5" x2="383.7" y2="527.5" stroke="#111" stroke-width="1.1"/>
<circle cx="375.7" cy="436.4" r="1.45" fill="#111"/>
<circle cx="375.7" cy="452.4" r="1.45" fill="#111"/>
<circle cx="375.7" cy="480.1" r="1.45" fill="#111"/>
<circle cx="375.7" cy="487.6" r="1.45" fill="#111"/>
<circle cx="375.7" cy="489.9" r="1.45" fill="#111"/>
<line x1="398.5" y1="563.1" x2="398.5" y2="565.6" stroke="#333" stroke-width="0.5"/>
<line x1="398.5" y1="495.2" x2="398.5" y2="556" stroke="#333" stroke-width="0.6"/>
<rect x="390.5" y="516.1" width="16" height="17.9" fill="#4cb649" stroke="#222" stroke-width="0.6"/>
<line x1="390.5" y1="529.4" x2="406.5" y2="529.4" stroke="#111" stroke-width="1.1"/>
<line x1="30.4" y1="557" x2="33.1" y2="557" stroke="#333" stroke-width="0.6"/>
<text x="29.2" y="560.1" font-size="9" text-anchor="end" fill="#1a1a1a">0.0</text>
<line x1="30.4" y1="510.2" x2="33.1" y2="510.2" stroke="#333" stroke-width="0.6"/>
<text x="29.2" y="513.3" font-size="9" text-anchor="end" fill="#1a1a1a">0.2</text>
<line x1="30.4" y1="463.6" x2="33.1" y2="463.6" stroke="#333" stroke-width="0.6"/>
<text x="29.2" y="466.7" font-size="9" text-anchor="end" fill="#1a1a1a">0.4</text>
<text transform="translate(12.2,492.7) rotate(-90)" font-size="8.6" text-anchor="middle" fill="#000">Avg. expression: ADCY3</text>
<line x1="69" y1="435.5" x2="92.2" y2="435.5" stroke="#444" stroke-width="0.8"/>
<text x="80.6" y="436.1" font-size="7.8" text-anchor="middle" fill="#222">**</text>
<line x1="46.6" y1="451.5" x2="92.2" y2="451.5" stroke="#444" stroke-width="0.8"/>
<text x="69.4" y="452.1" font-size="7.8" text-anchor="middle" fill="#222">****</text>
<line x1="46.6" y1="466.5" x2="69.7" y2="466.5" stroke="#444" stroke-width="0.8"/>
<text x="58.15" y="467.1" font-size="7.8" text-anchor="middle" fill="#222">****</text>
<text x="422.4" y="402.3" font-size="21" fill="#000">f</text>
<rect x="439.7" y="383.9" width="40.9" height="11.6" fill="#efefef"/>
<text x="482.4" y="391.6" font-size="5.6" fill="#555">Chromosome 2</text>
<rect x="528.8" y="386.8" width="146" height="5.8" rx="2.9" fill="#fff" stroke="#3a3a3a" stroke-width="0.5"/>
<rect x="528.8" y="387" width="1.5" height="5.4" fill="#9a9a9a"/>
<rect x="532.6" y="387" width="1.2" height="5.4" fill="#8c8c8c"/>
<rect x="535.5" y="387" width="0.7" height="5.4" fill="#aaa"/>
<rect x="537.8" y="387" width="1.2" height="5.4" fill="#555"/>
<rect x="544.3" y="387" width="3.5" height="5.4" fill="#d0d0d0"/>
<rect x="547.8" y="387" width="1.7" height="5.4" fill="#9a9a9a"/>
<rect x="551.3" y="387" width="1.7" height="5.4" fill="#9a9a9a"/>
<rect x="557.1" y="387" width="2.4" height="5.4" fill="#111"/>
<rect x="560.6" y="387" width="1.2" height="5.4" fill="#7a7a7a"/>
<rect x="561.8" y="387" width="3.5" height="5.4" fill="#111"/>
<rect x="567.6" y="387" width="1.2" height="5.4" fill="#9a9a9a"/>
<rect x="570" y="387" width="1.1" height="5.4" fill="#9a9a9a"/>
<rect x="574" y="387" width="3.6" height="5.4" fill="#111"/>
<rect x="577.6" y="387" width="1.1" height="5.4" fill="#9a9a9a"/>
<rect x="590.4" y="387" width="1.2" height="5.4" fill="#8c8c8c"/>
<rect x="595" y="387" width="1.5" height="5.4" fill="#9a9a9a"/>
<rect x="599.7" y="387" width="5" height="5.4" fill="#9a9a9a"/>
<rect x="605.8" y="387" width="1.8" height="5.4" fill="#aaa"/>
<rect x="609.9" y="387" width="2.9" height="5.4" fill="#111"/>
<rect x="614.6" y="387" width="2.3" height="5.4" fill="#111"/>
<rect x="620.4" y="387" width="2.4" height="5.4" fill="#7a7a7a"/>
<rect x="624.5" y="387" width="1.8" height="5.4" fill="#9a9a9a"/>
<rect x="626.3" y="387" width="3.5" height="5.4" fill="#333"/>
<rect x="635" y="387" width="3" height="5.4" fill="#999"/>
<rect x="638" y="387" width="2.3" height="5.4" fill="#444"/>
<rect x="641.5" y="387" width="1.7" height="5.4" fill="#555"/>
<rect x="646.1" y="387" width="1.8" height="5.4" fill="#9a9a9a"/>
<rect x="650.8" y="387" width="2.3" height="5.4" fill="#111"/>
<rect x="657.2" y="387" width="2.4" height="5.4" fill="#8c8c8c"/>
<rect x="661.9" y="387" width="2.3" height="5.4" fill="#111"/>
<rect x="664.2" y="387" width="1.8" height="5.4" fill="#9a9a9a"/>
<rect x="667.2" y="387" width="1.7" height="5.4" fill="#8c8c8c"/>
<rect x="583.2" y="386.2" width="2.7" height="6.9" fill="#fff"/>
<path d="M582.9 386.8 L584.55 389.7 L582.9 392.6 Z M586.2 386.8 L584.55 389.7 L586.2 392.6 Z" fill="#8b2222"/>
<line x1="543.8" y1="385.3" x2="543.8" y2="394.2" stroke="#ee3030" stroke-width="1"/>
<line x1="486" y1="406.9" x2="670" y2="406.9" stroke="#888" stroke-width="0.6"/>
<path d="M489 405.3 L485.4 406.9 L489 408.5 M667 405.3 L670.6 406.9 L667 408.5" fill="none" stroke="#888" stroke-width="0.6"/>
<line x1="499.6" y1="406.9" x2="499.6" y2="404.3" stroke="#888" stroke-width="0.6"/>
<text x="499.6" y="402.6" font-size="5.3" text-anchor="middle" fill="#666">24 mb</text>
<line x1="591.2" y1="406.9" x2="591.2" y2="404.3" stroke="#888" stroke-width="0.6"/>
<text x="591.2" y="402.6" font-size="5.3" text-anchor="middle" fill="#666">25 mb</text>
<line x1="545.2" y1="406.9" x2="545.2" y2="409.5" stroke="#888" stroke-width="0.6"/>
<text x="545.2" y="417.4" font-size="5.3" text-anchor="middle" fill="#666">24.5 mb</text>
<line x1="637.6" y1="406.9" x2="637.6" y2="409.5" stroke="#888" stroke-width="0.6"/>
<text x="637.6" y="417.4" font-size="5.3" text-anchor="middle" fill="#666">25.5 mb</text>
<rect x="439.7" y="421.2" width="40.3" height="96.4" fill="#d3d3d3"/>
<line x1="478.4" y1="423.2" x2="478.4" y2="515.6" stroke="#ececec" stroke-width="0.5"/>
<line x1="476.6" y1="513.5" x2="478.4" y2="513.5" stroke="#f0f0f0" stroke-width="0.5"/>
<text x="473.3" y="515.2" font-size="4.8" text-anchor="end" fill="#f6f6f6">0</text>
<line x1="476.6" y1="493.3" x2="478.4" y2="493.3" stroke="#f0f0f0" stroke-width="0.5"/>
<text x="473.3" y="495" font-size="4.8" text-anchor="end" fill="#f6f6f6">2</text>
<line x1="476.6" y1="473" x2="478.4" y2="473" stroke="#f0f0f0" stroke-width="0.5"/>
<text x="473.3" y="474.7" font-size="4.8" text-anchor="end" fill="#f6f6f6">4</text>
<line x1="476.6" y1="452.7" x2="478.4" y2="452.7" stroke="#f0f0f0" stroke-width="0.5"/>
<text x="473.3" y="454.4" font-size="4.8" text-anchor="end" fill="#f6f6f6">6</text>
<line x1="476.6" y1="432.4" x2="478.4" y2="432.4" stroke="#f0f0f0" stroke-width="0.5"/>
<text x="473.3" y="434.1" font-size="4.8" text-anchor="end" fill="#f6f6f6">8</text>
<text transform="translate(449.4,469.4) rotate(-90)" font-size="8.6" text-anchor="middle" fill="#222">ADCY3</text>
<circle cx="482.26" cy="502.25" r="1.25" fill="#1d80f0"/>
<circle cx="484.17" cy="502.17" r="1.25" fill="#1d80f0"/>
<circle cx="485.72" cy="502.47" r="1.25" fill="#1d80f0"/>
<circle cx="486.98" cy="502.61" r="1.25" fill="#1d80f0"/>
<circle cx="488.61" cy="502.53" r="1.25" fill="#1d80f0"/>
<circle cx="490.28" cy="502.19" r="1.25" fill="#1d80f0"/>
<circle cx="492.21" cy="502.93" r="1.25" fill="#1d80f0"/>
<circle cx="493.61" cy="502.32" r="1.25" fill="#1d80f0"/>
<circle cx="495.66" cy="503.05" r="1.25" fill="#1d80f0"/>
<circle cx="497.26" cy="502.5" r="1.25" fill="#1d80f0"/>
<circle cx="482.78" cy="507.45" r="1.25" fill="#1d80f0"/>
<circle cx="484.33" cy="507.69" r="1.25" fill="#1d80f0"/>
<circle cx="485.4" cy="507.52" r="1.25" fill="#1d80f0"/>
<circle cx="487.18" cy="508.22" r="1.25" fill="#1d80f0"/>
<circle cx="488.72" cy="507.98" r="1.25" fill="#1d80f0"/>
<circle cx="490.73" cy="507.77" r="1.25" fill="#1d80f0"/>
<circle cx="492.3" cy="507.46" r="1.25" fill="#1d80f0"/>
<circle cx="493.56" cy="507.61" r="1.25" fill="#1d80f0"/>
<circle cx="495.7" cy="507.83" r="1.25" fill="#1d80f0"/>
<circle cx="497.05" cy="507.99" r="1.25" fill="#1d80f0"/>
<circle cx="500.73" cy="504.9" r="1.25" fill="#1d80f0"/>
<circle cx="501.27" cy="506.1" r="1.25" fill="#1d80f0"/>
<circle cx="505.54" cy="501.07" r="1.25" fill="#1d80f0"/>
<circle cx="508.46" cy="502.15" r="1.25" fill="#1d80f0"/>
<circle cx="510.59" cy="500.04" r="1.25" fill="#1d80f0"/>
<circle cx="513.19" cy="499.43" r="1.25" fill="#1d80f0"/>
<circle cx="507.35" cy="501.73" r="1.25" fill="#1d80f0"/>
<circle cx="504.58" cy="500.76" r="1.25" fill="#1d80f0"/>
<circle cx="503.41" cy="501.41" r="1.25" fill="#1d80f0"/>
<circle cx="510.95" cy="501.06" r="1.25" fill="#1d80f0"/>
<circle cx="512.1" cy="500.13" r="1.25" fill="#1d80f0"/>
<circle cx="522.65" cy="509.94" r="1.25" fill="#1d80f0"/>
<circle cx="521.11" cy="508.56" r="1.25" fill="#1d80f0"/>
<circle cx="524.57" cy="513.45" r="1.25" fill="#1d80f0"/>
<circle cx="519.71" cy="510.64" r="1.25" fill="#1d80f0"/>
<circle cx="514.21" cy="511.01" r="1.25" fill="#1d80f0"/>
<circle cx="522.01" cy="513.93" r="1.25" fill="#1d80f0"/>
<circle cx="524.33" cy="506.85" r="1.25" fill="#1d80f0"/>
<circle cx="518.53" cy="510.69" r="1.25" fill="#1d80f0"/>
<circle cx="513.7" cy="508.62" r="1.25" fill="#1d80f0"/>
<circle cx="515.64" cy="505.17" r="1.25" fill="#1d80f0"/>
<circle cx="514.18" cy="511.68" r="1.25" fill="#1d80f0"/>
<circle cx="515.12" cy="506.48" r="1.25" fill="#1d80f0"/>
<circle cx="518.6" cy="512.71" r="1.25" fill="#1d80f0"/>
<circle cx="514.47" cy="508.49" r="1.25" fill="#1d80f0"/>
<circle cx="530.37" cy="505.5" r="1.25" fill="#1d80f0"/>
<circle cx="538.5" cy="496.29" r="1.25" fill="#1d80f0"/>
<circle cx="538.5" cy="494.95" r="1.25" fill="#1d80f0"/>
<circle cx="536.89" cy="507.38" r="1.25" fill="#1d80f0"/>
<circle cx="540.37" cy="506.65" r="1.25" fill="#1d80f0"/>
<circle cx="543.43" cy="508.39" r="1.25" fill="#1d80f0"/>
<circle cx="545.03" cy="509.91" r="1.25" fill="#1d80f0"/>
<circle cx="555" cy="508.58" r="1.25" fill="#1d80f0"/>
<circle cx="538.61" cy="509.51" r="1.25" fill="#1d80f0"/>
<circle cx="548.84" cy="510.4" r="1.25" fill="#1d80f0"/>
<circle cx="565.19" cy="511.14" r="1.25" fill="#1d80f0"/>
<circle cx="552.93" cy="510.71" r="1.25" fill="#1d80f0"/>
<circle cx="557.43" cy="507.32" r="1.25" fill="#1d80f0"/>
<circle cx="563.69" cy="511.68" r="1.25" fill="#1d80f0"/>
<circle cx="562.99" cy="511.79" r="1.25" fill="#1d80f0"/>
<circle cx="549.49" cy="509.39" r="1.25" fill="#1d80f0"/>
<circle cx="541.4" cy="510.81" r="1.25" fill="#1d80f0"/>
<circle cx="540.24" cy="507.4" r="1.25" fill="#1d80f0"/>
<circle cx="544.35" cy="507.97" r="1.25" fill="#1d80f0"/>
<circle cx="548.02" cy="507.32" r="1.25" fill="#1d80f0"/>
<circle cx="538.51" cy="507.91" r="1.25" fill="#1d80f0"/>
<circle cx="541.34" cy="509.18" r="1.25" fill="#1d80f0"/>
<circle cx="539.21" cy="512.25" r="1.25" fill="#1d80f0"/>
<circle cx="555.69" cy="507.89" r="1.25" fill="#1d80f0"/>
<circle cx="545.56" cy="509.08" r="1.25" fill="#1d80f0"/>
<circle cx="556.01" cy="504.18" r="1.25" fill="#1d80f0"/>
<circle cx="564.01" cy="505.49" r="1.25" fill="#1d80f0"/>
<circle cx="557.69" cy="504.73" r="1.25" fill="#1d80f0"/>
<circle cx="551.42" cy="504.15" r="1.25" fill="#1d80f0"/>
<circle cx="555.65" cy="504.4" r="1.25" fill="#1d80f0"/>
<circle cx="563.68" cy="504.24" r="1.25" fill="#1d80f0"/>
<circle cx="550.38" cy="505.43" r="1.25" fill="#1d80f0"/>
<circle cx="558.72" cy="504.22" r="1.25" fill="#1d80f0"/>
<circle cx="558.96" cy="504.04" r="1.25" fill="#1d80f0"/>
<circle cx="558.71" cy="505.47" r="1.25" fill="#1d80f0"/>
<circle cx="567.38" cy="496.24" r="1.25" fill="#1d80f0"/>
<circle cx="564.68" cy="494.33" r="1.25" fill="#1d80f0"/>
<circle cx="564.25" cy="496.68" r="1.25" fill="#1d80f0"/>
<circle cx="565.9" cy="496.72" r="1.25" fill="#1d80f0"/>
<circle cx="564.98" cy="493.49" r="1.25" fill="#1d80f0"/>
<circle cx="575.97" cy="513.85" r="1.25" fill="#1d80f0"/>
<circle cx="576.15" cy="512.06" r="1.25" fill="#1d80f0"/>
<circle cx="576" cy="511.4" r="1.25" fill="#1d80f0"/>
<circle cx="573.4" cy="509.18" r="1.25" fill="#1d80f0"/>
<circle cx="573.96" cy="504.29" r="1.25" fill="#1d80f0"/>
<circle cx="572.52" cy="506.79" r="1.25" fill="#1d80f0"/>
<circle cx="573.54" cy="510.93" r="1.25" fill="#1d80f0"/>
<circle cx="576.61" cy="508.47" r="1.25" fill="#1d80f0"/>
<circle cx="572.15" cy="472.99" r="1.25" fill="#1d80f0"/>
<circle cx="575.66" cy="472.36" r="1.25" fill="#1d80f0"/>
<circle cx="577.4" cy="495.2" r="1.25" fill="#1d80f0"/>
<circle cx="578.38" cy="438.44" r="1.25" fill="#1d80f0"/>
<circle cx="581.37" cy="445.05" r="1.25" fill="#1d80f0"/>
<circle cx="582.88" cy="441.05" r="1.25" fill="#1d80f0"/>
<circle cx="581.57" cy="444.1" r="1.25" fill="#1d80f0"/>
<circle cx="577.59" cy="442.78" r="1.25" fill="#1d80f0"/>
<circle cx="583.37" cy="443.93" r="1.25" fill="#1d80f0"/>
<circle cx="582.25" cy="441.04" r="1.25" fill="#1d80f0"/>
<circle cx="578.25" cy="444" r="1.25" fill="#1d80f0"/>
<circle cx="579.33" cy="444.11" r="1.25" fill="#1d80f0"/>
<circle cx="583.8" cy="440.26" r="1.25" fill="#1d80f0"/>
<circle cx="579.81" cy="445.49" r="1.25" fill="#1d80f0"/>
<circle cx="582.07" cy="438.12" r="1.25" fill="#1d80f0"/>
<circle cx="577.89" cy="437.94" r="1.25" fill="#1d80f0"/>
<circle cx="583.33" cy="444.16" r="1.25" fill="#1d80f0"/>
<circle cx="578.02" cy="444.35" r="1.25" fill="#1d80f0"/>
<circle cx="583.86" cy="442.74" r="1.25" fill="#1d80f0"/>
<circle cx="581.1" cy="448.74" r="1.25" fill="#1d80f0"/>
<circle cx="579.79" cy="446.07" r="1.25" fill="#1d80f0"/>
<circle cx="584.83" cy="449.25" r="1.25" fill="#1d80f0"/>
<circle cx="582.16" cy="450.67" r="1.25" fill="#1d80f0"/>
<circle cx="581.6" cy="450.36" r="1.25" fill="#1d80f0"/>
<circle cx="578.4" cy="450.8" r="1.25" fill="#1d80f0"/>
<circle cx="584.8" cy="453.29" r="1.25" fill="#1d80f0"/>
<circle cx="586.79" cy="453.59" r="1.25" fill="#1d80f0"/>
<circle cx="588.81" cy="453.42" r="1.25" fill="#1d80f0"/>
<circle cx="590.7" cy="453.91" r="1.25" fill="#1d80f0"/>
<circle cx="593" cy="453.5" r="1.25" fill="#1d80f0"/>
<circle cx="587.1" cy="458.3" r="1.25" fill="#1d80f0"/>
<circle cx="597.4" cy="461.3" r="1.25" fill="#1d80f0"/>
<circle cx="584.8" cy="481" r="1.25" fill="#1d80f0"/>
<circle cx="597.42" cy="490.32" r="1.25" fill="#1d80f0"/>
<circle cx="601.85" cy="490.48" r="1.25" fill="#1d80f0"/>
<circle cx="604.8" cy="496.4" r="1.25" fill="#1d80f0"/>
<circle cx="604.8" cy="495.91" r="1.25" fill="#1d80f0"/>
<circle cx="606.56" cy="511.67" r="1.25" fill="#1d80f0"/>
<circle cx="604.77" cy="511.56" r="1.25" fill="#1d80f0"/>
<circle cx="605.8" cy="512.35" r="1.25" fill="#1d80f0"/>
<circle cx="603.78" cy="511.68" r="1.25" fill="#1d80f0"/>
<circle cx="614.05" cy="476.65" r="1.25" fill="#1d80f0"/>
<circle cx="614.78" cy="478.36" r="1.25" fill="#1d80f0"/>
<circle cx="614.49" cy="480.22" r="1.25" fill="#1d80f0"/>
<circle cx="627.24" cy="508.12" r="1.25" fill="#1d80f0"/>
<circle cx="623.25" cy="508.48" r="1.25" fill="#1d80f0"/>
<circle cx="621.91" cy="509.59" r="1.25" fill="#1d80f0"/>
<circle cx="621.12" cy="508.65" r="1.25" fill="#1d80f0"/>
<circle cx="621.46" cy="511.05" r="1.25" fill="#1d80f0"/>
<circle cx="624.4" cy="510.67" r="1.25" fill="#1d80f0"/>
<circle cx="627.63" cy="507.03" r="1.25" fill="#1d80f0"/>
<circle cx="622.54" cy="511.07" r="1.25" fill="#1d80f0"/>
<circle cx="626.27" cy="506.31" r="1.25" fill="#1d80f0"/>
<circle cx="616.72" cy="508.11" r="1.25" fill="#1d80f0"/>
<circle cx="616.06" cy="506.92" r="1.25" fill="#1d80f0"/>
<circle cx="616.07" cy="509.45" r="1.25" fill="#1d80f0"/>
<circle cx="625.53" cy="510.79" r="1.25" fill="#1d80f0"/>
<circle cx="617.15" cy="509.73" r="1.25" fill="#1d80f0"/>
<circle cx="628.4" cy="499" r="1.25" fill="#1d80f0"/>
<circle cx="620" cy="504.5" r="1.25" fill="#1d80f0"/>
<circle cx="638.41" cy="513.69" r="1.25" fill="#1d80f0"/>
<circle cx="646.56" cy="512.57" r="1.25" fill="#1d80f0"/>
<circle cx="673.54" cy="513.4" r="1.25" fill="#1d80f0"/>
<circle cx="635.76" cy="512.44" r="1.25" fill="#1d80f0"/>
<circle cx="651.91" cy="512.21" r="1.25" fill="#1d80f0"/>
<circle cx="637.33" cy="512.16" r="1.25" fill="#1d80f0"/>
<circle cx="661.33" cy="511.45" r="1.25" fill="#1d80f0"/>
<circle cx="653.66" cy="512.46" r="1.25" fill="#1d80f0"/>
<circle cx="629.22" cy="512.2" r="1.25" fill="#1d80f0"/>
<circle cx="656.85" cy="512.63" r="1.25" fill="#1d80f0"/>
<circle cx="631.33" cy="513.76" r="1.25" fill="#1d80f0"/>
<circle cx="664.35" cy="513.73" r="1.25" fill="#1d80f0"/>
<circle cx="633.18" cy="512.04" r="1.25" fill="#1d80f0"/>
<circle cx="630.21" cy="513.27" r="1.25" fill="#1d80f0"/>
<circle cx="640.73" cy="511.71" r="1.25" fill="#1d80f0"/>
<circle cx="647.65" cy="513.59" r="1.25" fill="#1d80f0"/>
<circle cx="665.75" cy="512.02" r="1.25" fill="#1d80f0"/>
<circle cx="635.21" cy="513.61" r="1.25" fill="#1d80f0"/>
<circle cx="654.42" cy="513.08" r="1.25" fill="#1d80f0"/>
<circle cx="632.48" cy="511.54" r="1.25" fill="#1d80f0"/>
<circle cx="659.78" cy="512.42" r="1.25" fill="#1d80f0"/>
<circle cx="631.7" cy="513.65" r="1.25" fill="#1d80f0"/>
<circle cx="657.33" cy="513.32" r="1.25" fill="#1d80f0"/>
<circle cx="632.22" cy="513.45" r="1.25" fill="#1d80f0"/>
<circle cx="631.44" cy="513.47" r="1.25" fill="#1d80f0"/>
<circle cx="649.09" cy="512.21" r="1.25" fill="#1d80f0"/>
<circle cx="653.62" cy="513.62" r="1.25" fill="#1d80f0"/>
<circle cx="640.61" cy="511.71" r="1.25" fill="#1d80f0"/>
<circle cx="652.43" cy="511.97" r="1.25" fill="#1d80f0"/>
<circle cx="633.39" cy="511.79" r="1.25" fill="#1d80f0"/>
<circle cx="630.7" cy="511.88" r="1.25" fill="#1d80f0"/>
<circle cx="642.63" cy="512.13" r="1.25" fill="#1d80f0"/>
<circle cx="663.03" cy="512.1" r="1.25" fill="#1d80f0"/>
<circle cx="651.2" cy="511.83" r="1.25" fill="#1d80f0"/>
<circle cx="644.22" cy="511.44" r="1.25" fill="#1d80f0"/>
<circle cx="639.82" cy="511.44" r="1.25" fill="#1d80f0"/>
<circle cx="661.83" cy="512.72" r="1.25" fill="#1d80f0"/>
<circle cx="637.04" cy="512.54" r="1.25" fill="#1d80f0"/>
<circle cx="671.02" cy="511.66" r="1.25" fill="#1d80f0"/>
<circle cx="665.74" cy="512.44" r="1.25" fill="#1d80f0"/>
<circle cx="650.97" cy="513.4" r="1.25" fill="#1d80f0"/>
<circle cx="646.32" cy="512.62" r="1.25" fill="#1d80f0"/>
<circle cx="659.76" cy="513.76" r="1.25" fill="#1d80f0"/>
<circle cx="644.03" cy="513.4" r="1.25" fill="#1d80f0"/>
<circle cx="660.63" cy="512.93" r="1.25" fill="#1d80f0"/>
<circle cx="646.85" cy="512.23" r="1.25" fill="#1d80f0"/>
<circle cx="630.88" cy="511.71" r="1.25" fill="#1d80f0"/>
<circle cx="631.62" cy="513.18" r="1.25" fill="#1d80f0"/>
<circle cx="640.06" cy="511.79" r="1.25" fill="#1d80f0"/>
<circle cx="632.25" cy="513.42" r="1.25" fill="#1d80f0"/>
<circle cx="668.1" cy="513.01" r="1.25" fill="#1d80f0"/>
<circle cx="641.26" cy="511.98" r="1.25" fill="#1d80f0"/>
<circle cx="641.76" cy="512.5" r="1.25" fill="#1d80f0"/>
<circle cx="635.58" cy="512.47" r="1.25" fill="#1d80f0"/>
<circle cx="640.4" cy="513.71" r="1.25" fill="#1d80f0"/>
<path d="M578.3 431.5 L581.5 434.7 L578.3 437.9 L575.1 434.7Z" fill="#f21212"/>
<rect x="439.7" y="519.2" width="40.3" height="96.6" fill="#d3d3d3"/>
<line x1="478.4" y1="521.2" x2="478.4" y2="613.8" stroke="#ececec" stroke-width="0.5"/>
<line x1="476.6" y1="612.1" x2="478.4" y2="612.1" stroke="#f0f0f0" stroke-width="0.5"/>
<text x="473.3" y="613.8" font-size="4.8" text-anchor="end" fill="#f6f6f6">0</text>
<line x1="476.6" y1="592.5" x2="478.4" y2="592.5" stroke="#f0f0f0" stroke-width="0.5"/>
<text x="473.3" y="594.2" font-size="4.8" text-anchor="end" fill="#f6f6f6">20</text>
<line x1="476.6" y1="572.9" x2="478.4" y2="572.9" stroke="#f0f0f0" stroke-width="0.5"/>
<text x="473.3" y="574.6" font-size="4.8" text-anchor="end" fill="#f6f6f6">40</text>
<line x1="476.6" y1="553.2" x2="478.4" y2="553.2" stroke="#f0f0f0" stroke-width="0.5"/>
<text x="473.3" y="554.9" font-size="4.8" text-anchor="end" fill="#f6f6f6">60</text>
<line x1="476.6" y1="533.6" x2="478.4" y2="533.6" stroke="#f0f0f0" stroke-width="0.5"/>
<text x="473.3" y="535.3" font-size="4.8" text-anchor="end" fill="#f6f6f6">80</text>
<text transform="translate(449.4,567.5) rotate(-90)" font-size="8.6" text-anchor="middle" fill="#222">BodyMassIndex</text>
<circle cx="485.76" cy="611.71" r="1.25" fill="#1d80f0"/>
<circle cx="484.27" cy="611.09" r="1.25" fill="#1d80f0"/>
<circle cx="483.66" cy="609.99" r="1.25" fill="#1d80f0"/>
<circle cx="497.19" cy="609.9" r="1.25" fill="#1d80f0"/>
<circle cx="491.9" cy="610.5" r="1.25" fill="#1d80f0"/>
<circle cx="489.11" cy="610.59" r="1.25" fill="#1d80f0"/>
<circle cx="485.25" cy="611.39" r="1.25" fill="#1d80f0"/>
<circle cx="483.73" cy="609.96" r="1.25" fill="#1d80f0"/>
<circle cx="482.7" cy="610.04" r="1.25" fill="#1d80f0"/>
<circle cx="488.43" cy="611.56" r="1.25" fill="#1d80f0"/>
<circle cx="488.01" cy="609.67" r="1.25" fill="#1d80f0"/>
<circle cx="486.22" cy="611.78" r="1.25" fill="#1d80f0"/>
<circle cx="483.33" cy="610.89" r="1.25" fill="#1d80f0"/>
<circle cx="487.98" cy="610.99" r="1.25" fill="#1d80f0"/>
<circle cx="504.54" cy="610.63" r="1.25" fill="#1d80f0"/>
<circle cx="506.67" cy="610.47" r="1.25" fill="#1d80f0"/>
<circle cx="512.08" cy="610.21" r="1.25" fill="#1d80f0"/>
<circle cx="501.9" cy="608.24" r="1.25" fill="#1d80f0"/>
<circle cx="512.68" cy="609.86" r="1.25" fill="#1d80f0"/>
<circle cx="502.6" cy="611.59" r="1.25" fill="#1d80f0"/>
<circle cx="507.76" cy="610.77" r="1.25" fill="#1d80f0"/>
<circle cx="511.8" cy="609.09" r="1.25" fill="#1d80f0"/>
<circle cx="504.78" cy="611.34" r="1.25" fill="#1d80f0"/>
<circle cx="501.81" cy="610.9" r="1.25" fill="#1d80f0"/>
<circle cx="519.3" cy="611.8" r="1.25" fill="#1d80f0"/>
<circle cx="526.7" cy="611.8" r="1.25" fill="#1d80f0"/>
<circle cx="544.66" cy="610.91" r="1.25" fill="#1d80f0"/>
<circle cx="539.94" cy="610.27" r="1.25" fill="#1d80f0"/>
<circle cx="542.36" cy="610.92" r="1.25" fill="#1d80f0"/>
<circle cx="539.02" cy="611.63" r="1.25" fill="#1d80f0"/>
<circle cx="542.2" cy="611.26" r="1.25" fill="#1d80f0"/>
<circle cx="540.11" cy="610.44" r="1.25" fill="#1d80f0"/>
<circle cx="546.05" cy="605.53" r="1.25" fill="#1d80f0"/>
<circle cx="551.32" cy="606" r="1.25" fill="#1d80f0"/>
<circle cx="553.6" cy="608.42" r="1.25" fill="#1d80f0"/>
<circle cx="564.25" cy="604.53" r="1.25" fill="#1d80f0"/>
<circle cx="554" cy="604.48" r="1.25" fill="#1d80f0"/>
<circle cx="559.53" cy="609.25" r="1.25" fill="#1d80f0"/>
<circle cx="549.98" cy="608.02" r="1.25" fill="#1d80f0"/>
<circle cx="552.01" cy="603.58" r="1.25" fill="#1d80f0"/>
<circle cx="561.62" cy="605.52" r="1.25" fill="#1d80f0"/>
<circle cx="549.32" cy="606.07" r="1.25" fill="#1d80f0"/>
<circle cx="550.6" cy="605.92" r="1.25" fill="#1d80f0"/>
<circle cx="555.03" cy="605.97" r="1.25" fill="#1d80f0"/>
<circle cx="557.98" cy="605.2" r="1.25" fill="#1d80f0"/>
<circle cx="559.71" cy="583.65" r="1.25" fill="#1d80f0"/>
<circle cx="559.8" cy="587.48" r="1.25" fill="#1d80f0"/>
<circle cx="561.7" cy="590.01" r="1.25" fill="#1d80f0"/>
<circle cx="562.79" cy="589.13" r="1.25" fill="#1d80f0"/>
<circle cx="566.35" cy="583.45" r="1.25" fill="#1d80f0"/>
<circle cx="559.13" cy="584.14" r="1.25" fill="#1d80f0"/>
<circle cx="561.9" cy="587.95" r="1.25" fill="#1d80f0"/>
<circle cx="564.58" cy="585.99" r="1.25" fill="#1d80f0"/>
<circle cx="566.24" cy="582.93" r="1.25" fill="#1d80f0"/>
<circle cx="565.27" cy="584.75" r="1.25" fill="#1d80f0"/>
<circle cx="565.56" cy="583.19" r="1.25" fill="#1d80f0"/>
<circle cx="566.24" cy="589.58" r="1.25" fill="#1d80f0"/>
<circle cx="575.27" cy="591.35" r="1.25" fill="#1d80f0"/>
<circle cx="572.42" cy="593.07" r="1.25" fill="#1d80f0"/>
<circle cx="573.35" cy="589.17" r="1.25" fill="#1d80f0"/>
<circle cx="573.92" cy="590.99" r="1.25" fill="#1d80f0"/>
<circle cx="573.46" cy="589.48" r="1.25" fill="#1d80f0"/>
<circle cx="572.23" cy="604.03" r="1.25" fill="#1d80f0"/>
<circle cx="573.38" cy="601.35" r="1.25" fill="#1d80f0"/>
<circle cx="573.34" cy="604.88" r="1.25" fill="#1d80f0"/>
<circle cx="574.3" cy="603.38" r="1.25" fill="#1d80f0"/>
<circle cx="573.18" cy="602.73" r="1.25" fill="#1d80f0"/>
<circle cx="572.4" cy="611.8" r="1.25" fill="#1d80f0"/>
<circle cx="576.2" cy="611.8" r="1.25" fill="#1d80f0"/>
<circle cx="581.08" cy="579.24" r="1.25" fill="#1d80f0"/>
<circle cx="580.41" cy="574.17" r="1.25" fill="#1d80f0"/>
<circle cx="578.95" cy="577.2" r="1.25" fill="#1d80f0"/>
<circle cx="577.35" cy="581.16" r="1.25" fill="#1d80f0"/>
<circle cx="581.26" cy="577.72" r="1.25" fill="#1d80f0"/>
<circle cx="580.96" cy="575.49" r="1.25" fill="#1d80f0"/>
<circle cx="578.15" cy="577.89" r="1.25" fill="#1d80f0"/>
<circle cx="581.19" cy="578.79" r="1.25" fill="#1d80f0"/>
<circle cx="576.84" cy="578.54" r="1.25" fill="#1d80f0"/>
<circle cx="582.16" cy="579.5" r="1.25" fill="#1d80f0"/>
<circle cx="582.27" cy="581.26" r="1.25" fill="#1d80f0"/>
<circle cx="578.12" cy="576.19" r="1.25" fill="#1d80f0"/>
<circle cx="580.03" cy="581.23" r="1.25" fill="#1d80f0"/>
<circle cx="578.98" cy="580.97" r="1.25" fill="#1d80f0"/>
<circle cx="584.51" cy="539.52" r="1.25" fill="#1d80f0"/>
<circle cx="582.86" cy="542.78" r="1.25" fill="#1d80f0"/>
<circle cx="584.02" cy="537.89" r="1.25" fill="#1d80f0"/>
<circle cx="584.47" cy="537.15" r="1.25" fill="#1d80f0"/>
<circle cx="581" cy="542.79" r="1.25" fill="#1d80f0"/>
<circle cx="584.48" cy="538.01" r="1.25" fill="#1d80f0"/>
<circle cx="580.42" cy="540.24" r="1.25" fill="#1d80f0"/>
<circle cx="584.45" cy="540.76" r="1.25" fill="#1d80f0"/>
<circle cx="585.13" cy="541.09" r="1.25" fill="#1d80f0"/>
<circle cx="584.29" cy="540.18" r="1.25" fill="#1d80f0"/>
<circle cx="580.94" cy="538.86" r="1.25" fill="#1d80f0"/>
<circle cx="581.88" cy="539.61" r="1.25" fill="#1d80f0"/>
<circle cx="584.42" cy="537.69" r="1.25" fill="#1d80f0"/>
<circle cx="578.8" cy="541.13" r="1.25" fill="#1d80f0"/>
<circle cx="580.28" cy="538.81" r="1.25" fill="#1d80f0"/>
<circle cx="579.15" cy="541.84" r="1.25" fill="#1d80f0"/>
<circle cx="584.2" cy="523.9" r="1.25" fill="#1d80f0"/>
<circle cx="584.8" cy="528.3" r="1.25" fill="#1d80f0"/>
<circle cx="585.6" cy="534.2" r="1.25" fill="#1d80f0"/>
<circle cx="577.7" cy="550.4" r="1.25" fill="#1d80f0"/>
<circle cx="584.8" cy="557.8" r="1.25" fill="#1d80f0"/>
<circle cx="593" cy="548.4" r="1.25" fill="#1d80f0"/>
<circle cx="601.34" cy="570.78" r="1.25" fill="#1d80f0"/>
<circle cx="601.39" cy="569.76" r="1.25" fill="#1d80f0"/>
<circle cx="601.24" cy="571.67" r="1.25" fill="#1d80f0"/>
<circle cx="600.06" cy="571.05" r="1.25" fill="#1d80f0"/>
<circle cx="601.24" cy="572.57" r="1.25" fill="#1d80f0"/>
<circle cx="604.8" cy="574" r="1.25" fill="#1d80f0"/>
<circle cx="605.4" cy="580" r="1.25" fill="#1d80f0"/>
<circle cx="606.3" cy="583.5" r="1.25" fill="#1d80f0"/>
<circle cx="606.3" cy="599.1" r="1.25" fill="#1d80f0"/>
<circle cx="604.8" cy="610" r="1.25" fill="#1d80f0"/>
<circle cx="615.34" cy="607.95" r="1.25" fill="#1d80f0"/>
<circle cx="629.01" cy="608.4" r="1.25" fill="#1d80f0"/>
<circle cx="619.36" cy="602.38" r="1.25" fill="#1d80f0"/>
<circle cx="629.98" cy="610.42" r="1.25" fill="#1d80f0"/>
<circle cx="625.27" cy="605.59" r="1.25" fill="#1d80f0"/>
<circle cx="628.36" cy="609.99" r="1.25" fill="#1d80f0"/>
<circle cx="626.53" cy="607.88" r="1.25" fill="#1d80f0"/>
<circle cx="619.35" cy="604.91" r="1.25" fill="#1d80f0"/>
<circle cx="620.03" cy="605.2" r="1.25" fill="#1d80f0"/>
<circle cx="622.9" cy="603.12" r="1.25" fill="#1d80f0"/>
<circle cx="626.47" cy="605.41" r="1.25" fill="#1d80f0"/>
<circle cx="616.53" cy="604.5" r="1.25" fill="#1d80f0"/>
<circle cx="620.59" cy="606.23" r="1.25" fill="#1d80f0"/>
<circle cx="627.54" cy="602.98" r="1.25" fill="#1d80f0"/>
<circle cx="617.64" cy="604.87" r="1.25" fill="#1d80f0"/>
<circle cx="616.83" cy="609.34" r="1.25" fill="#1d80f0"/>
<circle cx="615.63" cy="602.5" r="1.25" fill="#1d80f0"/>
<circle cx="623.54" cy="609.21" r="1.25" fill="#1d80f0"/>
<circle cx="628.3" cy="607.48" r="1.25" fill="#1d80f0"/>
<circle cx="619.48" cy="610.64" r="1.25" fill="#1d80f0"/>
<circle cx="626.73" cy="606.69" r="1.25" fill="#1d80f0"/>
<circle cx="623.66" cy="611.17" r="1.25" fill="#1d80f0"/>
<circle cx="673.89" cy="611.68" r="1.25" fill="#1d80f0"/>
<circle cx="637.05" cy="610.59" r="1.25" fill="#1d80f0"/>
<circle cx="648.77" cy="610.3" r="1.25" fill="#1d80f0"/>
<circle cx="663.86" cy="610.11" r="1.25" fill="#1d80f0"/>
<circle cx="669.21" cy="611.05" r="1.25" fill="#1d80f0"/>
<circle cx="657.55" cy="610.75" r="1.25" fill="#1d80f0"/>
<circle cx="671.3" cy="611.04" r="1.25" fill="#1d80f0"/>
<circle cx="669.59" cy="611.66" r="1.25" fill="#1d80f0"/>
<circle cx="660.88" cy="611.77" r="1.25" fill="#1d80f0"/>
<circle cx="652.26" cy="610.66" r="1.25" fill="#1d80f0"/>
<circle cx="667.35" cy="610.95" r="1.25" fill="#1d80f0"/>
<circle cx="644.56" cy="611.22" r="1.25" fill="#1d80f0"/>
<circle cx="651.67" cy="610.23" r="1.25" fill="#1d80f0"/>
<circle cx="667.09" cy="610.9" r="1.25" fill="#1d80f0"/>
<circle cx="672.79" cy="610.96" r="1.25" fill="#1d80f0"/>
<circle cx="671.31" cy="610.52" r="1.25" fill="#1d80f0"/>
<circle cx="640.67" cy="610.95" r="1.25" fill="#1d80f0"/>
<circle cx="664.06" cy="611.48" r="1.25" fill="#1d80f0"/>
<circle cx="658.98" cy="610.22" r="1.25" fill="#1d80f0"/>
<circle cx="648.19" cy="610.06" r="1.25" fill="#1d80f0"/>
<circle cx="647.23" cy="611.7" r="1.25" fill="#1d80f0"/>
<circle cx="646.18" cy="611.26" r="1.25" fill="#1d80f0"/>
<circle cx="657.87" cy="610.26" r="1.25" fill="#1d80f0"/>
<circle cx="660.73" cy="610.14" r="1.25" fill="#1d80f0"/>
<circle cx="639.27" cy="611.04" r="1.25" fill="#1d80f0"/>
<circle cx="636.83" cy="611.74" r="1.25" fill="#1d80f0"/>
<circle cx="649.53" cy="611.13" r="1.25" fill="#1d80f0"/>
<circle cx="672.51" cy="610.19" r="1.25" fill="#1d80f0"/>
<circle cx="673.96" cy="610.07" r="1.25" fill="#1d80f0"/>
<circle cx="657.01" cy="611.18" r="1.25" fill="#1d80f0"/>
<circle cx="673.4" cy="610.64" r="1.25" fill="#1d80f0"/>
<circle cx="671.73" cy="611.17" r="1.25" fill="#1d80f0"/>
<circle cx="651.71" cy="610.31" r="1.25" fill="#1d80f0"/>
<circle cx="641.44" cy="610.66" r="1.25" fill="#1d80f0"/>
<circle cx="646.15" cy="610.67" r="1.25" fill="#1d80f0"/>
<circle cx="665.82" cy="610.67" r="1.25" fill="#1d80f0"/>
<circle cx="658.18" cy="610.07" r="1.25" fill="#1d80f0"/>
<circle cx="637.39" cy="611.28" r="1.25" fill="#1d80f0"/>
<circle cx="669.34" cy="610.56" r="1.25" fill="#1d80f0"/>
<circle cx="632.78" cy="610.42" r="1.25" fill="#1d80f0"/>
<circle cx="646.76" cy="610.66" r="1.25" fill="#1d80f0"/>
<circle cx="655.32" cy="610.54" r="1.25" fill="#1d80f0"/>
<circle cx="658.96" cy="611.41" r="1.25" fill="#1d80f0"/>
<circle cx="664.77" cy="611.33" r="1.25" fill="#1d80f0"/>
<circle cx="656.28" cy="610.47" r="1.25" fill="#1d80f0"/>
<path d="M578.3 541.9 L581.5 545.1 L578.3 548.3 L575.1 545.1Z" fill="#f21212"/>
<text x="484.7" y="538.1" font-size="11.3" fill="#222">PP4 = 0.825</text>
<rect x="439.7" y="617.4" width="40.3" height="96" fill="#d3d3d3"/>
<line x1="478.4" y1="619.4" x2="478.4" y2="711.4" stroke="#ececec" stroke-width="0.5"/>
<line x1="476.6" y1="709.3" x2="478.4" y2="709.3" stroke="#f0f0f0" stroke-width="0.5"/>
<text x="473.3" y="711" font-size="4.8" text-anchor="end" fill="#f6f6f6">0</text>
<line x1="476.6" y1="690.7" x2="478.4" y2="690.7" stroke="#f0f0f0" stroke-width="0.5"/>
<text x="473.3" y="692.4" font-size="4.8" text-anchor="end" fill="#f6f6f6">2</text>
<line x1="476.6" y1="672.1" x2="478.4" y2="672.1" stroke="#f0f0f0" stroke-width="0.5"/>
<text x="473.3" y="673.8" font-size="4.8" text-anchor="end" fill="#f6f6f6">4</text>
<line x1="476.6" y1="653.5" x2="478.4" y2="653.5" stroke="#f0f0f0" stroke-width="0.5"/>
<text x="473.3" y="655.2" font-size="4.8" text-anchor="end" fill="#f6f6f6">6</text>
<line x1="476.6" y1="634.8" x2="478.4" y2="634.8" stroke="#f0f0f0" stroke-width="0.5"/>
<text x="473.3" y="636.5" font-size="4.8" text-anchor="end" fill="#f6f6f6">8</text>
<text transform="translate(449.4,665.4) rotate(-90)" font-size="8.6" text-anchor="middle" fill="#222">ObesityClass1</text>
<circle cx="489.25" cy="702.12" r="1.25" fill="#1d80f0"/>
<circle cx="484.45" cy="703.6" r="1.25" fill="#1d80f0"/>
<circle cx="482.5" cy="702.51" r="1.25" fill="#1d80f0"/>
<circle cx="495.69" cy="701.24" r="1.25" fill="#1d80f0"/>
<circle cx="490.6" cy="702.85" r="1.25" fill="#1d80f0"/>
<circle cx="483.01" cy="702.14" r="1.25" fill="#1d80f0"/>
<circle cx="492.81" cy="702.36" r="1.25" fill="#1d80f0"/>
<circle cx="493.13" cy="701.47" r="1.25" fill="#1d80f0"/>
<circle cx="485.92" cy="701.33" r="1.25" fill="#1d80f0"/>
<circle cx="489.89" cy="703.77" r="1.25" fill="#1d80f0"/>
<circle cx="491.14" cy="703.32" r="1.25" fill="#1d80f0"/>
<circle cx="488.08" cy="703.24" r="1.25" fill="#1d80f0"/>
<circle cx="489.2" cy="699.6" r="1.25" fill="#1d80f0"/>
<circle cx="520.9" cy="705.77" r="1.25" fill="#1d80f0"/>
<circle cx="513.07" cy="702.89" r="1.25" fill="#1d80f0"/>
<circle cx="508.27" cy="703.44" r="1.25" fill="#1d80f0"/>
<circle cx="508.72" cy="706.14" r="1.25" fill="#1d80f0"/>
<circle cx="506.18" cy="706.49" r="1.25" fill="#1d80f0"/>
<circle cx="527.26" cy="702.75" r="1.25" fill="#1d80f0"/>
<circle cx="511.74" cy="704.71" r="1.25" fill="#1d80f0"/>
<circle cx="500.73" cy="704.41" r="1.25" fill="#1d80f0"/>
<circle cx="528.1" cy="703" r="1.25" fill="#1d80f0"/>
<circle cx="518.5" cy="703.05" r="1.25" fill="#1d80f0"/>
<circle cx="517.94" cy="706.53" r="1.25" fill="#1d80f0"/>
<circle cx="506.29" cy="702.54" r="1.25" fill="#1d80f0"/>
<circle cx="502.59" cy="704.93" r="1.25" fill="#1d80f0"/>
<circle cx="500.54" cy="702.88" r="1.25" fill="#1d80f0"/>
<circle cx="515.4" cy="706.64" r="1.25" fill="#1d80f0"/>
<circle cx="513.02" cy="704.29" r="1.25" fill="#1d80f0"/>
<circle cx="540" cy="704.9" r="1.25" fill="#1d80f0"/>
<circle cx="553.9" cy="704.52" r="1.25" fill="#1d80f0"/>
<circle cx="554.16" cy="706.87" r="1.25" fill="#1d80f0"/>
<circle cx="549.28" cy="705.67" r="1.25" fill="#1d80f0"/>
<circle cx="554.14" cy="704.45" r="1.25" fill="#1d80f0"/>
<circle cx="551.16" cy="706.98" r="1.25" fill="#1d80f0"/>
<circle cx="567.98" cy="691.78" r="1.25" fill="#1d80f0"/>
<circle cx="565.35" cy="699.16" r="1.25" fill="#1d80f0"/>
<circle cx="561.13" cy="696.14" r="1.25" fill="#1d80f0"/>
<circle cx="559.39" cy="693.96" r="1.25" fill="#1d80f0"/>
<circle cx="565.07" cy="695.95" r="1.25" fill="#1d80f0"/>
<circle cx="565.97" cy="691.47" r="1.25" fill="#1d80f0"/>
<circle cx="562.12" cy="698.39" r="1.25" fill="#1d80f0"/>
<circle cx="564.26" cy="694.72" r="1.25" fill="#1d80f0"/>
<circle cx="562.62" cy="699.48" r="1.25" fill="#1d80f0"/>
<circle cx="564.17" cy="690.86" r="1.25" fill="#1d80f0"/>
<circle cx="566.19" cy="693.63" r="1.25" fill="#1d80f0"/>
<circle cx="562.9" cy="692.6" r="1.25" fill="#1d80f0"/>
<circle cx="563" cy="693.59" r="1.25" fill="#1d80f0"/>
<circle cx="559.8" cy="696.3" r="1.25" fill="#1d80f0"/>
<circle cx="572.85" cy="692.43" r="1.25" fill="#1d80f0"/>
<circle cx="572.51" cy="692.41" r="1.25" fill="#1d80f0"/>
<circle cx="575.95" cy="690.73" r="1.25" fill="#1d80f0"/>
<circle cx="575.52" cy="689.26" r="1.25" fill="#1d80f0"/>
<circle cx="575.65" cy="690.31" r="1.25" fill="#1d80f0"/>
<circle cx="573.42" cy="706.93" r="1.25" fill="#1d80f0"/>
<circle cx="574.16" cy="705.75" r="1.25" fill="#1d80f0"/>
<circle cx="576.18" cy="705.74" r="1.25" fill="#1d80f0"/>
<circle cx="575.34" cy="705.34" r="1.25" fill="#1d80f0"/>
<circle cx="583.71" cy="635.01" r="1.25" fill="#1d80f0"/>
<circle cx="577.21" cy="646.12" r="1.25" fill="#1d80f0"/>
<circle cx="578.22" cy="645.67" r="1.25" fill="#1d80f0"/>
<circle cx="584.89" cy="640.4" r="1.25" fill="#1d80f0"/>
<circle cx="576.9" cy="631.94" r="1.25" fill="#1d80f0"/>
<circle cx="578.51" cy="637.03" r="1.25" fill="#1d80f0"/>
<circle cx="581.81" cy="645.98" r="1.25" fill="#1d80f0"/>
<circle cx="579.71" cy="633.18" r="1.25" fill="#1d80f0"/>
<circle cx="581.41" cy="633.13" r="1.25" fill="#1d80f0"/>
<circle cx="577.51" cy="639.62" r="1.25" fill="#1d80f0"/>
<circle cx="582.51" cy="632.02" r="1.25" fill="#1d80f0"/>
<circle cx="580.5" cy="641.91" r="1.25" fill="#1d80f0"/>
<circle cx="583.07" cy="636.94" r="1.25" fill="#1d80f0"/>
<circle cx="584.07" cy="633.62" r="1.25" fill="#1d80f0"/>
<circle cx="582.67" cy="642.96" r="1.25" fill="#1d80f0"/>
<circle cx="584.02" cy="638.66" r="1.25" fill="#1d80f0"/>
<circle cx="577.61" cy="631.75" r="1.25" fill="#1d80f0"/>
<circle cx="581.14" cy="633.69" r="1.25" fill="#1d80f0"/>
<circle cx="581.96" cy="632.31" r="1.25" fill="#1d80f0"/>
<circle cx="583.2" cy="634.45" r="1.25" fill="#1d80f0"/>
<circle cx="584.8" cy="630.3" r="1.25" fill="#1d80f0"/>
<circle cx="579.49" cy="659.66" r="1.25" fill="#1d80f0"/>
<circle cx="579.09" cy="655.68" r="1.25" fill="#1d80f0"/>
<circle cx="579.64" cy="663.65" r="1.25" fill="#1d80f0"/>
<circle cx="579.96" cy="663.6" r="1.25" fill="#1d80f0"/>
<circle cx="576.97" cy="664.13" r="1.25" fill="#1d80f0"/>
<circle cx="582.05" cy="659.51" r="1.25" fill="#1d80f0"/>
<circle cx="579.89" cy="659.43" r="1.25" fill="#1d80f0"/>
<circle cx="582.17" cy="654.58" r="1.25" fill="#1d80f0"/>
<circle cx="580.59" cy="659.48" r="1.25" fill="#1d80f0"/>
<circle cx="578.57" cy="661.37" r="1.25" fill="#1d80f0"/>
<circle cx="581.05" cy="654.96" r="1.25" fill="#1d80f0"/>
<circle cx="580.93" cy="658.57" r="1.25" fill="#1d80f0"/>
<circle cx="579.69" cy="660.46" r="1.25" fill="#1d80f0"/>
<circle cx="577.11" cy="660.11" r="1.25" fill="#1d80f0"/>
<circle cx="579" cy="662.95" r="1.25" fill="#1d80f0"/>
<circle cx="578.16" cy="662.38" r="1.25" fill="#1d80f0"/>
<circle cx="593.83" cy="668.45" r="1.25" fill="#1d80f0"/>
<circle cx="595.76" cy="665.86" r="1.25" fill="#1d80f0"/>
<circle cx="592.08" cy="668.4" r="1.25" fill="#1d80f0"/>
<circle cx="593.15" cy="667.49" r="1.25" fill="#1d80f0"/>
<circle cx="585.11" cy="666.53" r="1.25" fill="#1d80f0"/>
<circle cx="592.23" cy="666.5" r="1.25" fill="#1d80f0"/>
<circle cx="585.06" cy="667.26" r="1.25" fill="#1d80f0"/>
<circle cx="590.41" cy="668.06" r="1.25" fill="#1d80f0"/>
<circle cx="597.52" cy="693.78" r="1.25" fill="#1d80f0"/>
<circle cx="598.9" cy="693.82" r="1.25" fill="#1d80f0"/>
<circle cx="597.44" cy="694.83" r="1.25" fill="#1d80f0"/>
<circle cx="600.06" cy="694.96" r="1.25" fill="#1d80f0"/>
<circle cx="601.84" cy="694.11" r="1.25" fill="#1d80f0"/>
<circle cx="597.88" cy="691.26" r="1.25" fill="#1d80f0"/>
<circle cx="605.4" cy="686.3" r="1.25" fill="#1d80f0"/>
<circle cx="606.3" cy="695.1" r="1.25" fill="#1d80f0"/>
<circle cx="605.4" cy="704" r="1.25" fill="#1d80f0"/>
<circle cx="619.23" cy="699.49" r="1.25" fill="#1d80f0"/>
<circle cx="615.9" cy="698.41" r="1.25" fill="#1d80f0"/>
<circle cx="616.46" cy="697.4" r="1.25" fill="#1d80f0"/>
<circle cx="615.88" cy="697.92" r="1.25" fill="#1d80f0"/>
<circle cx="615.09" cy="696.18" r="1.25" fill="#1d80f0"/>
<circle cx="618.99" cy="704.59" r="1.25" fill="#1d80f0"/>
<circle cx="617.93" cy="706.83" r="1.25" fill="#1d80f0"/>
<circle cx="612.3" cy="704.31" r="1.25" fill="#1d80f0"/>
<circle cx="622.8" cy="704.17" r="1.25" fill="#1d80f0"/>
<circle cx="615.39" cy="706.55" r="1.25" fill="#1d80f0"/>
<circle cx="620.17" cy="704.66" r="1.25" fill="#1d80f0"/>
<circle cx="629.65" cy="705.28" r="1.25" fill="#1d80f0"/>
<circle cx="633.84" cy="705.8" r="1.25" fill="#1d80f0"/>
<circle cx="641.7" cy="702.5" r="1.25" fill="#1d80f0"/>
<circle cx="671.54" cy="706.58" r="1.25" fill="#1d80f0"/>
<circle cx="670.91" cy="706.52" r="1.25" fill="#1d80f0"/>
<circle cx="673.19" cy="701.57" r="1.25" fill="#1d80f0"/>
<circle cx="656.94" cy="702.48" r="1.25" fill="#1d80f0"/>
<circle cx="664.1" cy="703.95" r="1.25" fill="#1d80f0"/>
<circle cx="657.67" cy="706.02" r="1.25" fill="#1d80f0"/>
<circle cx="658.98" cy="702.25" r="1.25" fill="#1d80f0"/>
<circle cx="655.91" cy="703.77" r="1.25" fill="#1d80f0"/>
<circle cx="664.26" cy="704.41" r="1.25" fill="#1d80f0"/>
<circle cx="660" cy="702.12" r="1.25" fill="#1d80f0"/>
<circle cx="659.05" cy="702.95" r="1.25" fill="#1d80f0"/>
<circle cx="653.26" cy="704.26" r="1.25" fill="#1d80f0"/>
<circle cx="653.71" cy="705.27" r="1.25" fill="#1d80f0"/>
<circle cx="665.47" cy="701.83" r="1.25" fill="#1d80f0"/>
<circle cx="664.63" cy="703.03" r="1.25" fill="#1d80f0"/>
<circle cx="660.18" cy="704.64" r="1.25" fill="#1d80f0"/>
<circle cx="668.04" cy="706.3" r="1.25" fill="#1d80f0"/>
<circle cx="667.34" cy="702.27" r="1.25" fill="#1d80f0"/>
<circle cx="662.55" cy="703.01" r="1.25" fill="#1d80f0"/>
<circle cx="649.48" cy="704.31" r="1.25" fill="#1d80f0"/>
<circle cx="660.76" cy="706.2" r="1.25" fill="#1d80f0"/>
<circle cx="657.09" cy="706" r="1.25" fill="#1d80f0"/>
<circle cx="661.85" cy="701.59" r="1.25" fill="#1d80f0"/>
<circle cx="666.92" cy="702.71" r="1.25" fill="#1d80f0"/>
<circle cx="662.34" cy="701.43" r="1.25" fill="#1d80f0"/>
<circle cx="649.27" cy="706.53" r="1.25" fill="#1d80f0"/>
<circle cx="650.05" cy="701.89" r="1.25" fill="#1d80f0"/>
<circle cx="653.08" cy="701.58" r="1.25" fill="#1d80f0"/>
<circle cx="669.6" cy="706.97" r="1.25" fill="#1d80f0"/>
<circle cx="665.23" cy="703.37" r="1.25" fill="#1d80f0"/>
<circle cx="671.21" cy="704.04" r="1.25" fill="#1d80f0"/>
<circle cx="652.37" cy="705.14" r="1.25" fill="#1d80f0"/>
<circle cx="657.97" cy="702.62" r="1.25" fill="#1d80f0"/>
<circle cx="657.01" cy="703.31" r="1.25" fill="#1d80f0"/>
<circle cx="653.56" cy="704.68" r="1.25" fill="#1d80f0"/>
<circle cx="670.71" cy="704.42" r="1.25" fill="#1d80f0"/>
<circle cx="649.24" cy="705.11" r="1.25" fill="#1d80f0"/>
<circle cx="649.5" cy="703.87" r="1.25" fill="#1d80f0"/>
<circle cx="670.64" cy="705.06" r="1.25" fill="#1d80f0"/>
<circle cx="671.71" cy="705.53" r="1.25" fill="#1d80f0"/>
<circle cx="655.82" cy="701.86" r="1.25" fill="#1d80f0"/>
<circle cx="660.29" cy="705.08" r="1.25" fill="#1d80f0"/>
<circle cx="654.8" cy="702.99" r="1.25" fill="#1d80f0"/>
<circle cx="667.7" cy="703.09" r="1.25" fill="#1d80f0"/>
<circle cx="664.02" cy="704.27" r="1.25" fill="#1d80f0"/>
<path d="M578.3 634.4 L581.5 637.6 L578.3 640.8 L575.1 637.6Z" fill="#f21212"/>
<text x="484.7" y="632.8" font-size="11.3" fill="#222">PP4 = 0.927</text>
<rect x="439.7" y="715.2" width="40.3" height="96.6" fill="#d3d3d3"/>
<line x1="478.4" y1="717.2" x2="478.4" y2="809.8" stroke="#ececec" stroke-width="0.5"/>
<line x1="476.6" y1="807.8" x2="478.4" y2="807.8" stroke="#f0f0f0" stroke-width="0.5"/>
<text x="473.3" y="809.5" font-size="4.8" text-anchor="end" fill="#f6f6f6">0</text>
<line x1="476.6" y1="782.3" x2="478.4" y2="782.3" stroke="#f0f0f0" stroke-width="0.5"/>
<text x="473.3" y="784" font-size="4.8" text-anchor="end" fill="#f6f6f6">2</text>
<line x1="476.6" y1="756.7" x2="478.4" y2="756.7" stroke="#f0f0f0" stroke-width="0.5"/>
<text x="473.3" y="758.4" font-size="4.8" text-anchor="end" fill="#f6f6f6">4</text>
<line x1="476.6" y1="731.2" x2="478.4" y2="731.2" stroke="#f0f0f0" stroke-width="0.5"/>
<text x="473.3" y="732.9" font-size="4.8" text-anchor="end" fill="#f6f6f6">6</text>
<text transform="translate(449.4,763.5) rotate(-90)" font-size="8.6" text-anchor="middle" fill="#222">ObesityClass2</text>
<circle cx="507.71" cy="800.93" r="1.25" fill="#1d80f0"/>
<circle cx="508.01" cy="799.93" r="1.25" fill="#1d80f0"/>
<circle cx="518.43" cy="802.71" r="1.25" fill="#1d80f0"/>
<circle cx="511.35" cy="799.72" r="1.25" fill="#1d80f0"/>
<circle cx="505.47" cy="800.47" r="1.25" fill="#1d80f0"/>
<circle cx="493.47" cy="803.29" r="1.25" fill="#1d80f0"/>
<circle cx="526.55" cy="799.2" r="1.25" fill="#1d80f0"/>
<circle cx="520.51" cy="801.71" r="1.25" fill="#1d80f0"/>
<circle cx="499.31" cy="800.28" r="1.25" fill="#1d80f0"/>
<circle cx="512.3" cy="801.06" r="1.25" fill="#1d80f0"/>
<circle cx="512.78" cy="801.98" r="1.25" fill="#1d80f0"/>
<circle cx="488.29" cy="802.46" r="1.25" fill="#1d80f0"/>
<circle cx="525.92" cy="803.36" r="1.25" fill="#1d80f0"/>
<circle cx="509.57" cy="799.2" r="1.25" fill="#1d80f0"/>
<circle cx="482.58" cy="799.6" r="1.25" fill="#1d80f0"/>
<circle cx="524.09" cy="800.36" r="1.25" fill="#1d80f0"/>
<circle cx="498.62" cy="803.04" r="1.25" fill="#1d80f0"/>
<circle cx="496.33" cy="801.47" r="1.25" fill="#1d80f0"/>
<circle cx="501.72" cy="799.29" r="1.25" fill="#1d80f0"/>
<circle cx="508.3" cy="802.8" r="1.25" fill="#1d80f0"/>
<circle cx="489.33" cy="800.01" r="1.25" fill="#1d80f0"/>
<circle cx="500.69" cy="799.17" r="1.25" fill="#1d80f0"/>
<circle cx="504.4" cy="802.68" r="1.25" fill="#1d80f0"/>
<circle cx="511.54" cy="801.4" r="1.25" fill="#1d80f0"/>
<circle cx="520.28" cy="799.67" r="1.25" fill="#1d80f0"/>
<circle cx="507.53" cy="800.68" r="1.25" fill="#1d80f0"/>
<circle cx="509.04" cy="799.51" r="1.25" fill="#1d80f0"/>
<circle cx="516.76" cy="799.43" r="1.25" fill="#1d80f0"/>
<circle cx="489.77" cy="802.63" r="1.25" fill="#1d80f0"/>
<circle cx="524.38" cy="800.95" r="1.25" fill="#1d80f0"/>
<circle cx="500.74" cy="800.1" r="1.25" fill="#1d80f0"/>
<circle cx="494.57" cy="801.78" r="1.25" fill="#1d80f0"/>
<circle cx="537.87" cy="800.86" r="1.25" fill="#1d80f0"/>
<circle cx="541.56" cy="800.99" r="1.25" fill="#1d80f0"/>
<circle cx="544.13" cy="802.96" r="1.25" fill="#1d80f0"/>
<circle cx="545.84" cy="801.94" r="1.25" fill="#1d80f0"/>
<circle cx="540.12" cy="801.8" r="1.25" fill="#1d80f0"/>
<circle cx="535.57" cy="802.64" r="1.25" fill="#1d80f0"/>
<circle cx="539.91" cy="801.46" r="1.25" fill="#1d80f0"/>
<circle cx="536.56" cy="801.84" r="1.25" fill="#1d80f0"/>
<circle cx="560.6" cy="781.4" r="1.25" fill="#1d80f0"/>
<circle cx="565.52" cy="790.16" r="1.25" fill="#1d80f0"/>
<circle cx="560.81" cy="789.47" r="1.25" fill="#1d80f0"/>
<circle cx="565.83" cy="789.44" r="1.25" fill="#1d80f0"/>
<circle cx="563.52" cy="787.3" r="1.25" fill="#1d80f0"/>
<circle cx="562.67" cy="789.17" r="1.25" fill="#1d80f0"/>
<circle cx="562.01" cy="788.98" r="1.25" fill="#1d80f0"/>
<circle cx="563.39" cy="789.53" r="1.25" fill="#1d80f0"/>
<circle cx="562.67" cy="787.78" r="1.25" fill="#1d80f0"/>
<circle cx="550.2" cy="794" r="1.25" fill="#1d80f0"/>
<circle cx="563.25" cy="794.91" r="1.25" fill="#1d80f0"/>
<circle cx="554.76" cy="799.37" r="1.25" fill="#1d80f0"/>
<circle cx="555.74" cy="795.43" r="1.25" fill="#1d80f0"/>
<circle cx="556.94" cy="798.64" r="1.25" fill="#1d80f0"/>
<circle cx="575.15" cy="798.92" r="1.25" fill="#1d80f0"/>
<circle cx="564.15" cy="798.48" r="1.25" fill="#1d80f0"/>
<circle cx="565.02" cy="798.58" r="1.25" fill="#1d80f0"/>
<circle cx="569.66" cy="802.59" r="1.25" fill="#1d80f0"/>
<circle cx="569.08" cy="798.37" r="1.25" fill="#1d80f0"/>
<circle cx="568.08" cy="802.69" r="1.25" fill="#1d80f0"/>
<circle cx="557.86" cy="796.71" r="1.25" fill="#1d80f0"/>
<circle cx="567.45" cy="800.71" r="1.25" fill="#1d80f0"/>
<circle cx="567.94" cy="799.84" r="1.25" fill="#1d80f0"/>
<circle cx="571.79" cy="798.86" r="1.25" fill="#1d80f0"/>
<circle cx="571.34" cy="803.16" r="1.25" fill="#1d80f0"/>
<circle cx="580.63" cy="757.82" r="1.25" fill="#1d80f0"/>
<circle cx="583.12" cy="758.75" r="1.25" fill="#1d80f0"/>
<circle cx="577.21" cy="759.51" r="1.25" fill="#1d80f0"/>
<circle cx="583.55" cy="761.03" r="1.25" fill="#1d80f0"/>
<circle cx="585.44" cy="740.05" r="1.25" fill="#1d80f0"/>
<circle cx="582.7" cy="735.58" r="1.25" fill="#1d80f0"/>
<circle cx="582.04" cy="759.71" r="1.25" fill="#1d80f0"/>
<circle cx="578.49" cy="742.05" r="1.25" fill="#1d80f0"/>
<circle cx="577.5" cy="737.23" r="1.25" fill="#1d80f0"/>
<circle cx="578.63" cy="734.18" r="1.25" fill="#1d80f0"/>
<circle cx="585.6" cy="758.71" r="1.25" fill="#1d80f0"/>
<circle cx="580.88" cy="754.25" r="1.25" fill="#1d80f0"/>
<circle cx="582.92" cy="747.4" r="1.25" fill="#1d80f0"/>
<circle cx="580.53" cy="751.79" r="1.25" fill="#1d80f0"/>
<circle cx="581.69" cy="739.44" r="1.25" fill="#1d80f0"/>
<circle cx="580.01" cy="750.65" r="1.25" fill="#1d80f0"/>
<circle cx="582.32" cy="737.7" r="1.25" fill="#1d80f0"/>
<circle cx="582.17" cy="758.32" r="1.25" fill="#1d80f0"/>
<circle cx="584.47" cy="751.42" r="1.25" fill="#1d80f0"/>
<circle cx="577.42" cy="744.33" r="1.25" fill="#1d80f0"/>
<circle cx="577.58" cy="732.91" r="1.25" fill="#1d80f0"/>
<circle cx="579.04" cy="745.36" r="1.25" fill="#1d80f0"/>
<circle cx="583.48" cy="750.69" r="1.25" fill="#1d80f0"/>
<circle cx="579.29" cy="752.75" r="1.25" fill="#1d80f0"/>
<circle cx="581.26" cy="746.93" r="1.25" fill="#1d80f0"/>
<circle cx="579.12" cy="744.89" r="1.25" fill="#1d80f0"/>
<circle cx="579.81" cy="753.72" r="1.25" fill="#1d80f0"/>
<circle cx="581.05" cy="745.05" r="1.25" fill="#1d80f0"/>
<circle cx="581" cy="746.08" r="1.25" fill="#1d80f0"/>
<circle cx="582.87" cy="753.52" r="1.25" fill="#1d80f0"/>
<circle cx="583.85" cy="743.76" r="1.25" fill="#1d80f0"/>
<circle cx="583.78" cy="761.11" r="1.25" fill="#1d80f0"/>
<circle cx="585.53" cy="753.54" r="1.25" fill="#1d80f0"/>
<circle cx="577.38" cy="757.47" r="1.25" fill="#1d80f0"/>
<circle cx="584.16" cy="731.71" r="1.25" fill="#1d80f0"/>
<circle cx="579.68" cy="741.19" r="1.25" fill="#1d80f0"/>
<circle cx="583.32" cy="750.12" r="1.25" fill="#1d80f0"/>
<circle cx="579.28" cy="736.98" r="1.25" fill="#1d80f0"/>
<circle cx="578.28" cy="734.16" r="1.25" fill="#1d80f0"/>
<circle cx="583.76" cy="760.21" r="1.25" fill="#1d80f0"/>
<circle cx="578.73" cy="754.29" r="1.25" fill="#1d80f0"/>
<circle cx="585.17" cy="737.14" r="1.25" fill="#1d80f0"/>
<circle cx="577.7" cy="768" r="1.25" fill="#1d80f0"/>
<circle cx="577.4" cy="772.5" r="1.25" fill="#1d80f0"/>
<circle cx="577.4" cy="787.2" r="1.25" fill="#1d80f0"/>
<circle cx="599.42" cy="775.89" r="1.25" fill="#1d80f0"/>
<circle cx="594.12" cy="777.28" r="1.25" fill="#1d80f0"/>
<circle cx="598.05" cy="778.13" r="1.25" fill="#1d80f0"/>
<circle cx="590.93" cy="772.78" r="1.25" fill="#1d80f0"/>
<circle cx="596.88" cy="772.8" r="1.25" fill="#1d80f0"/>
<circle cx="594.81" cy="777.57" r="1.25" fill="#1d80f0"/>
<circle cx="592.07" cy="776.05" r="1.25" fill="#1d80f0"/>
<circle cx="588.39" cy="773.43" r="1.25" fill="#1d80f0"/>
<circle cx="595.48" cy="777.6" r="1.25" fill="#1d80f0"/>
<circle cx="601.9" cy="772.68" r="1.25" fill="#1d80f0"/>
<circle cx="607.1" cy="787.38" r="1.25" fill="#1d80f0"/>
<circle cx="602.01" cy="786.05" r="1.25" fill="#1d80f0"/>
<circle cx="604.04" cy="785.47" r="1.25" fill="#1d80f0"/>
<circle cx="600.2" cy="791.53" r="1.25" fill="#1d80f0"/>
<circle cx="605.19" cy="788.54" r="1.25" fill="#1d80f0"/>
<circle cx="605.33" cy="792.94" r="1.25" fill="#1d80f0"/>
<circle cx="600.46" cy="791.04" r="1.25" fill="#1d80f0"/>
<circle cx="606.22" cy="785.42" r="1.25" fill="#1d80f0"/>
<circle cx="606.3" cy="765.1" r="1.25" fill="#1d80f0"/>
<circle cx="615.97" cy="772.95" r="1.25" fill="#1d80f0"/>
<circle cx="615.79" cy="775.19" r="1.25" fill="#1d80f0"/>
<circle cx="615.94" cy="773.85" r="1.25" fill="#1d80f0"/>
<circle cx="617.67" cy="775.39" r="1.25" fill="#1d80f0"/>
<circle cx="616.6" cy="783.4" r="1.25" fill="#1d80f0"/>
<circle cx="604.8" cy="801.1" r="1.25" fill="#1d80f0"/>
<circle cx="612.73" cy="797.37" r="1.25" fill="#1d80f0"/>
<circle cx="621.98" cy="795.04" r="1.25" fill="#1d80f0"/>
<circle cx="614.02" cy="800.26" r="1.25" fill="#1d80f0"/>
<circle cx="615.91" cy="796.25" r="1.25" fill="#1d80f0"/>
<circle cx="621.96" cy="794.98" r="1.25" fill="#1d80f0"/>
<circle cx="618.36" cy="798.42" r="1.25" fill="#1d80f0"/>
<circle cx="615.76" cy="796.33" r="1.25" fill="#1d80f0"/>
<circle cx="613.88" cy="798.21" r="1.25" fill="#1d80f0"/>
<circle cx="619.95" cy="798.77" r="1.25" fill="#1d80f0"/>
<circle cx="620.21" cy="802.42" r="1.25" fill="#1d80f0"/>
<circle cx="628.92" cy="802.6" r="1.25" fill="#1d80f0"/>
<circle cx="630.14" cy="799.15" r="1.25" fill="#1d80f0"/>
<circle cx="629.94" cy="802.67" r="1.25" fill="#1d80f0"/>
<circle cx="629.58" cy="796.71" r="1.25" fill="#1d80f0"/>
<circle cx="631.28" cy="796.89" r="1.25" fill="#1d80f0"/>
<circle cx="641.7" cy="803.5" r="1.25" fill="#1d80f0"/>
<circle cx="655.37" cy="801.37" r="1.25" fill="#1d80f0"/>
<circle cx="663.84" cy="803.17" r="1.25" fill="#1d80f0"/>
<circle cx="656.24" cy="803.22" r="1.25" fill="#1d80f0"/>
<circle cx="663.09" cy="802.32" r="1.25" fill="#1d80f0"/>
<circle cx="660.91" cy="800.54" r="1.25" fill="#1d80f0"/>
<circle cx="651.55" cy="802.53" r="1.25" fill="#1d80f0"/>
<circle cx="664.94" cy="800.79" r="1.25" fill="#1d80f0"/>
<circle cx="663.52" cy="801.92" r="1.25" fill="#1d80f0"/>
<circle cx="662.02" cy="801.7" r="1.25" fill="#1d80f0"/>
<circle cx="653.05" cy="801.57" r="1.25" fill="#1d80f0"/>
<circle cx="671.82" cy="801.07" r="1.25" fill="#1d80f0"/>
<circle cx="669.16" cy="802.09" r="1.25" fill="#1d80f0"/>
<circle cx="649.47" cy="802.93" r="1.25" fill="#1d80f0"/>
<circle cx="648.03" cy="803.01" r="1.25" fill="#1d80f0"/>
<circle cx="656.06" cy="803.26" r="1.25" fill="#1d80f0"/>
<circle cx="665.77" cy="801.58" r="1.25" fill="#1d80f0"/>
<circle cx="663.23" cy="803.46" r="1.25" fill="#1d80f0"/>
<circle cx="651.88" cy="801.12" r="1.25" fill="#1d80f0"/>
<circle cx="654.83" cy="802.96" r="1.25" fill="#1d80f0"/>
<circle cx="653.77" cy="801.24" r="1.25" fill="#1d80f0"/>
<circle cx="662.97" cy="802.25" r="1.25" fill="#1d80f0"/>
<circle cx="658.07" cy="802.15" r="1.25" fill="#1d80f0"/>
<circle cx="648.38" cy="800.52" r="1.25" fill="#1d80f0"/>
<circle cx="648.29" cy="800.67" r="1.25" fill="#1d80f0"/>
<circle cx="666.87" cy="803.44" r="1.25" fill="#1d80f0"/>
<circle cx="650.72" cy="801.66" r="1.25" fill="#1d80f0"/>
<circle cx="647.97" cy="801.8" r="1.25" fill="#1d80f0"/>
<circle cx="664.14" cy="802.37" r="1.25" fill="#1d80f0"/>
<circle cx="670.14" cy="802.16" r="1.25" fill="#1d80f0"/>
<circle cx="648.92" cy="801.63" r="1.25" fill="#1d80f0"/>
<path d="M578.3 737.8 L581.5 741 L578.3 744.2 L575.1 741Z" fill="#f21212"/>
<text x="484.7" y="731.6" font-size="11.3" fill="#222">PP4 = 0.921</text>
<rect x="439.8" y="811.8" width="40.2" height="48.6" fill="#efefef"/>
<text transform="translate(453.8,837) rotate(-90)" font-size="7.6" font-weight="bold" text-anchor="middle" fill="#1a1a1a">ATACseq</text>
<text transform="translate(462.8,837) rotate(-90)" font-size="7.6" font-weight="bold" text-anchor="middle" fill="#1a1a1a">(Mono.)</text>
<line x1="483.2" y1="817.8" x2="483.2" y2="830.5" stroke="#8a8f96" stroke-width="0.7"/>
<line x1="500" y1="817.8" x2="500" y2="830.5" stroke="#8a8f96" stroke-width="0.7"/>
<line x1="509.8" y1="817.8" x2="509.8" y2="830.5" stroke="#8a8f96" stroke-width="0.7"/>
<line x1="537.2" y1="817.8" x2="537.2" y2="830.5" stroke="#8a8f96" stroke-width="0.7"/>
<line x1="559.1" y1="817.8" x2="559.1" y2="830.5" stroke="#8a8f96" stroke-width="0.7"/>
<line x1="575.5" y1="817.8" x2="575.5" y2="830.5" stroke="#8a8f96" stroke-width="0.7"/>
<line x1="577.2" y1="817.8" x2="577.2" y2="830.5" stroke="#8a8f96" stroke-width="0.7"/>
<line x1="579" y1="817.8" x2="579" y2="830.5" stroke="#8a8f96" stroke-width="0.7"/>
<line x1="581" y1="817.8" x2="581" y2="830.5" stroke="#8a8f96" stroke-width="0.7"/>
<line x1="583.3" y1="817.8" x2="583.3" y2="830.5" stroke="#8a8f96" stroke-width="0.7"/>
<line x1="606.5" y1="817.8" x2="606.5" y2="830.5" stroke="#8a8f96" stroke-width="0.7"/>
<line x1="615.7" y1="817.8" x2="615.7" y2="830.5" stroke="#8a8f96" stroke-width="0.7"/>
<line x1="617.5" y1="817.8" x2="617.5" y2="830.5" stroke="#8a8f96" stroke-width="0.7"/>
<line x1="619.3" y1="817.8" x2="619.3" y2="830.5" stroke="#8a8f96" stroke-width="0.7"/>
<line x1="628.4" y1="817.8" x2="628.4" y2="830.5" stroke="#8a8f96" stroke-width="0.7"/>
<line x1="635" y1="817.8" x2="635" y2="830.5" stroke="#8a8f96" stroke-width="0.7"/>
<line x1="652.2" y1="817.8" x2="652.2" y2="830.5" stroke="#8a8f96" stroke-width="0.7"/>
<line x1="654" y1="817.8" x2="654" y2="830.5" stroke="#8a8f96" stroke-width="0.7"/>
<line x1="655.8" y1="817.8" x2="655.8" y2="830.5" stroke="#8a8f96" stroke-width="0.7"/>
<line x1="663.1" y1="817.8" x2="663.1" y2="830.5" stroke="#8a8f96" stroke-width="0.7"/>
<line x1="672.2" y1="817.8" x2="672.2" y2="830.5" stroke="#8a8f96" stroke-width="0.7"/>
<line x1="576.3" y1="843.4" x2="576.3" y2="855" stroke="#8a9aa6" stroke-width="0.7"/>
<rect x="440" y="861.8" width="40.1" height="96.6" fill="#efefef"/>
<text transform="translate(459.2,910.6) rotate(-90)" font-size="8.6" text-anchor="middle" fill="#111">Ensembl gene</text>
<text x="484.1" y="846.3" font-size="7.4" letter-spacing="0.35" fill="#a0a0a0">ATAD2B</text>
<text x="515.8" y="855.5" font-size="7.4" letter-spacing="0.35" fill="#a0a0a0">UBXN2A</text>
<text x="504.5" y="887.6" font-size="7.4" letter-spacing="0.35" fill="#a0a0a0">FMSD2B</text>
<text x="507.7" y="896.4" font-size="7.4" letter-spacing="0.35" fill="#a0a0a0">FKBP1B</text>
<text x="517.9" y="905.8" font-size="7.4" letter-spacing="0.35" fill="#a0a0a0">FAM228B</text>
<text x="520.6" y="914.6" font-size="7.4" letter-spacing="0.35" fill="#a0a0a0">FAM228A</text>
<text x="507.7" y="922.6" font-size="7.4" letter-spacing="0.35" fill="#a0a0a0">WDCP</text>
<text x="510.1" y="932.2" font-size="7.4" letter-spacing="0.35" fill="#a0a0a0">TP53I3</text>
<text x="511" y="941.1" font-size="7.4" letter-spacing="0.35" fill="#a0a0a0">SF3B6</text>
<text x="586.8" y="905.5" font-size="7.4" letter-spacing="0.35" fill="#a0a0a0">ADCY3</text>
<text x="512.1" y="869.4" font-size="8.2" fill="#585858">NCOA1</text>
<text x="535" y="877.9" font-size="8.2" fill="#585858">PTRHD1</text>
<text x="539" y="887.6" font-size="8.2" fill="#585858">CENPO</text>
<text x="544.7" y="896.7" font-size="8.2" fill="#585858">DNAJC27</text>
<text x="564.7" y="914.5" font-size="8.2" fill="#585858">EFR3B</text>
<text x="574.7" y="923.0" font-size="8.2" fill="#585858">DNMT3A</text>
<text x="576.7" y="931.8" font-size="8.2" fill="#585858">POMC</text>
<text x="484.1" y="949.4" font-size="8.2" fill="#585858">PFN4</text>
<text x="490.9" y="958.2" font-size="8.2" fill="#585858">ITSN2</text>
<text x="599.4" y="869.7" font-size="8.2" fill="#585858">DTNB</text>
<text x="628.8" y="878.6" font-size="8.2" fill="#585858">ASXL2</text>
<line x1="482.5" y1="865.8" x2="492.5" y2="865.8" stroke="#c9b9a0" stroke-width="0.7"/><rect x="482.5" y="862.5" width="1.7" height="6.6" fill="#f2a52a" stroke="#c09a62" stroke-width="0.25"/><rect x="485" y="862.5" width="4.5" height="6.6" fill="#f2a52a" stroke="#c09a62" stroke-width="0.25"/><rect x="491.8" y="862.5" width="0.9" height="6.6" fill="#f2a52a" stroke="#c09a62" stroke-width="0.25"/>
<line x1="493.8" y1="874.3" x2="499.7" y2="874.3" stroke="#c9b9a0" stroke-width="0.7"/><rect x="494.5" y="871" width="3" height="6.6" fill="#dcb47c" stroke="#c09a62" stroke-width="0.25"/><rect x="498.5" y="871" width="1.2" height="6.6" fill="#dcb47c" stroke="#c09a62" stroke-width="0.25"/>
<rect x="510.5" y="871" width="1.5" height="6.6" fill="#bf9a64" stroke="#c09a62" stroke-width="0.25"/><rect x="512.8" y="871" width="1.8" height="6.6" fill="#bf9a64" stroke="#c09a62" stroke-width="0.25"/><rect x="515.4" y="871" width="2" height="6.6" fill="#bf9a64" stroke="#c09a62" stroke-width="0.25"/>
<line x1="544.2" y1="865.8" x2="570.9" y2="865.8" stroke="#c9b9a0" stroke-width="0.7"/><rect x="544.2" y="862.5" width="0.9" height="6.6" fill="#dcb47c" stroke="#c09a62" stroke-width="0.25"/><rect x="548" y="862.5" width="1" height="6.6" fill="#dcb47c" stroke="#c09a62" stroke-width="0.25"/><rect x="550.5" y="862.5" width="0.9" height="6.6" fill="#dcb47c" stroke="#c09a62" stroke-width="0.25"/><rect x="557.5" y="862.5" width="2.5" height="6.6" fill="#dcb47c" stroke="#c09a62" stroke-width="0.25"/><rect x="560.8" y="862.5" width="2.2" height="6.6" fill="#dcb47c" stroke="#c09a62" stroke-width="0.25"/><rect x="563.8" y="862.5" width="2.7" height="6.6" fill="#dcb47c" stroke="#c09a62" stroke-width="0.25"/><rect x="567.3" y="862.5" width="3.6" height="6.6" fill="#dcb47c" stroke="#c09a62" stroke-width="0.25"/>
<line x1="572" y1="874.3" x2="572.8" y2="874.3" stroke="#c9b9a0" stroke-width="0.7"/><rect x="572" y="871" width="0.9" height="6.6" fill="#dcb47c" stroke="#c09a62" stroke-width="0.25"/>
<line x1="500.3" y1="885.1" x2="501.8" y2="885.1" stroke="#c9b9a0" stroke-width="0.7"/><rect x="500.3" y="881.8" width="1.5" height="6.6" fill="#f6c878" stroke="#c09a62" stroke-width="0.25"/>
<rect x="572.5" y="880.9" width="0.9" height="6.6" fill="#dcb47c" stroke="#c09a62" stroke-width="0.25"/><rect x="574.1" y="880.9" width="0.9" height="6.6" fill="#dcb47c" stroke="#c09a62" stroke-width="0.25"/>
<line x1="504" y1="893.9" x2="505.3" y2="893.9" stroke="#c9b9a0" stroke-width="0.7"/><rect x="504" y="890.6" width="1.3" height="6.6" fill="#f6c878" stroke="#c09a62" stroke-width="0.25"/>
<line x1="586.5" y1="893" x2="589.3" y2="893" stroke="#c9b9a0" stroke-width="0.7"/><rect x="586.5" y="889.7" width="2.8" height="6.6" fill="#f6c878" stroke="#c09a62" stroke-width="0.25"/>
<rect x="512.4" y="900" width="1.2" height="6.6" fill="#bf9a64" stroke="#c09a62" stroke-width="0.25"/><rect x="514.2" y="900" width="0.9" height="6.6" fill="#bf9a64" stroke="#c09a62" stroke-width="0.25"/><rect x="515.5" y="900" width="0.9" height="6.6" fill="#bf9a64" stroke="#c09a62" stroke-width="0.25"/>
<line x1="574.2" y1="901.8" x2="585.1" y2="901.8" stroke="#c9b9a0" stroke-width="0.7"/><rect x="574.2" y="898.5" width="2.8" height="6.6" fill="#f6c878" stroke="#c09a62" stroke-width="0.25"/><rect x="578" y="898.5" width="1" height="6.6" fill="#f6c878" stroke="#c09a62" stroke-width="0.25"/><rect x="580.5" y="898.5" width="0.9" height="6.6" fill="#f6c878" stroke="#c09a62" stroke-width="0.25"/><rect x="584.3" y="898.5" width="0.9" height="6.6" fill="#f6c878" stroke="#c09a62" stroke-width="0.25"/>
<line x1="516.2" y1="912.1" x2="517.6" y2="912.1" stroke="#c9b9a0" stroke-width="0.7"/><rect x="516.2" y="908.8" width="1.4" height="6.6" fill="#f6c878" stroke="#c09a62" stroke-width="0.25"/>
<line x1="594.8" y1="910.9" x2="606.1" y2="910.9" stroke="#c9b9a0" stroke-width="0.7"/><rect x="594.8" y="907.6" width="0.9" height="6.6" fill="#dcb47c" stroke="#c09a62" stroke-width="0.25"/><rect x="598.5" y="907.6" width="1.5" height="6.6" fill="#dcb47c" stroke="#c09a62" stroke-width="0.25"/><rect x="600.6" y="907.6" width="1.4" height="6.6" fill="#dcb47c" stroke="#c09a62" stroke-width="0.25"/><rect x="602.5" y="907.6" width="3.6" height="6.6" fill="#dcb47c" stroke="#c09a62" stroke-width="0.25"/>
<line x1="502.6" y1="920.1" x2="503.8" y2="920.1" stroke="#c9b9a0" stroke-width="0.7"/><rect x="502.6" y="916.8" width="1.2" height="6.6" fill="#f6c878" stroke="#c09a62" stroke-width="0.25"/>
<line x1="612.3" y1="919.4" x2="623.4" y2="919.4" stroke="#c9b9a0" stroke-width="0.7"/><rect x="612.3" y="916.1" width="2" height="6.6" fill="#dcb47c" stroke="#c09a62" stroke-width="0.25"/><rect x="615.2" y="916.1" width="1.2" height="6.6" fill="#dcb47c" stroke="#c09a62" stroke-width="0.25"/><rect x="617" y="916.1" width="1.6" height="6.6" fill="#dcb47c" stroke="#c09a62" stroke-width="0.25"/><rect x="619.3" y="916.1" width="1" height="6.6" fill="#dcb47c" stroke="#c09a62" stroke-width="0.25"/>
<line x1="506.4" y1="929.7" x2="507.4" y2="929.7" stroke="#c9b9a0" stroke-width="0.7"/><rect x="506.4" y="926.4" width="1" height="6.6" fill="#dcb47c" stroke="#c09a62" stroke-width="0.25"/>
<line x1="605.8" y1="928.2" x2="607.2" y2="928.2" stroke="#c9b9a0" stroke-width="0.7"/><rect x="605.8" y="924.9" width="1.4" height="6.6" fill="#f6c878" stroke="#c09a62" stroke-width="0.25"/>
<line x1="505.8" y1="938.6" x2="506.9" y2="938.6" stroke="#c9b9a0" stroke-width="0.7"/><rect x="505.8" y="935.3" width="1.1" height="6.6" fill="#dcb47c" stroke="#c09a62" stroke-width="0.25"/>
<line x1="510" y1="945.8" x2="511.2" y2="945.8" stroke="#c9b9a0" stroke-width="0.7"/><rect x="510" y="942.5" width="1.2" height="6.6" fill="#f6c878" stroke="#c09a62" stroke-width="0.25"/>
<line x1="517.9" y1="954.6" x2="532.6" y2="954.6" stroke="#c9b9a0" stroke-width="0.7"/><rect x="517.9" y="951.3" width="2.1" height="6.6" fill="#f2a52a" stroke="#c09a62" stroke-width="0.25"/><rect x="521.3" y="951.3" width="1.2" height="6.6" fill="#f2a52a" stroke="#c09a62" stroke-width="0.25"/><rect x="523.3" y="951.3" width="1.8" height="6.6" fill="#f2a52a" stroke="#c09a62" stroke-width="0.25"/><rect x="525.8" y="951.3" width="2.7" height="6.6" fill="#f2a52a" stroke="#c09a62" stroke-width="0.25"/><rect x="531.8" y="951.3" width="0.9" height="6.6" fill="#f2a52a" stroke="#c09a62" stroke-width="0.25"/>
<line x1="625.7" y1="866.1" x2="653.9" y2="866.1" stroke="#c9b9a0" stroke-width="0.7"/><rect x="625.7" y="862.8" width="1.8" height="6.6" fill="#dcb47c" stroke="#c09a62" stroke-width="0.25"/><rect x="628.8" y="862.8" width="1.2" height="6.6" fill="#dcb47c" stroke="#c09a62" stroke-width="0.25"/><rect x="630.6" y="862.8" width="1.4" height="6.6" fill="#dcb47c" stroke="#c09a62" stroke-width="0.25"/><rect x="633.3" y="862.8" width="0.9" height="6.6" fill="#dcb47c" stroke="#c09a62" stroke-width="0.25"/><rect x="636" y="862.8" width="0.9" height="6.6" fill="#dcb47c" stroke="#c09a62" stroke-width="0.25"/><rect x="638.5" y="862.8" width="0.9" height="6.6" fill="#dcb47c" stroke="#c09a62" stroke-width="0.25"/><rect x="643.3" y="862.8" width="2.2" height="6.6" fill="#dcb47c" stroke="#c09a62" stroke-width="0.25"/><rect x="646" y="862.8" width="2.5" height="6.6" fill="#dcb47c" stroke="#c09a62" stroke-width="0.25"/><rect x="649" y="862.8" width="2" height="6.6" fill="#dcb47c" stroke="#c09a62" stroke-width="0.25"/><rect x="652.3" y="862.8" width="1.6" height="6.6" fill="#dcb47c" stroke="#c09a62" stroke-width="0.25"/>
<line x1="659.5" y1="875" x2="672.9" y2="875" stroke="#c9b9a0" stroke-width="0.7"/><rect x="659.5" y="871.7" width="2.5" height="6.6" fill="#f2a52a" stroke="#c09a62" stroke-width="0.25"/><rect x="663.5" y="871.7" width="1.5" height="6.6" fill="#f2a52a" stroke="#c09a62" stroke-width="0.25"/><rect x="667" y="871.7" width="1" height="6.6" fill="#f2a52a" stroke="#c09a62" stroke-width="0.25"/><rect x="671.8" y="871.7" width="1.1" height="6.6" fill="#f2a52a" stroke="#c09a62" stroke-width="0.25"/>
<path d="M498.6 848.7 L489.8 858.7" stroke="#000" stroke-width="1.1"/><path d="M488.4 861 L489.6 855.6 L492.4 858.2 Z" fill="#000"/>
<path d="M513.7 852.3 L503.4 866.8" stroke="#000" stroke-width="1.1"/><path d="M502 869.2 L502.8 863.7 L505.8 866 Z" fill="#000"/>
<text x="2.3" y="606.4" font-size="21" fill="#000">g</text>
<path d="M48.6 604.03 L50.8 607.85 L46.4 607.85Z" fill="#f01818"/>
<text x="54.3" y="608.8" font-size="6.9" fill="#111">top cis–eQTL</text>
<circle cx="48.6" cy="615.4" r="1.7" fill="#0b0b5c"/>
<text x="54.3" y="617.8" font-size="6.9" fill="#111">cis–eQTL</text>
<line x1="41.6" y1="613.4" x2="41.6" y2="760.5" stroke="#333" stroke-width="0.7"/>
<line x1="38.6" y1="613.4" x2="41.6" y2="613.4" stroke="#333" stroke-width="0.7"/>
<text x="35.1" y="615.8" font-size="6.8" text-anchor="end" fill="#111">0.009</text>
<line x1="38.6" y1="650.2" x2="41.6" y2="650.2" stroke="#333" stroke-width="0.7"/>
<text x="35.1" y="652.6" font-size="6.8" text-anchor="end" fill="#111">0</text>
<line x1="38.6" y1="687" x2="41.6" y2="687" stroke="#333" stroke-width="0.7"/>
<text x="35.1" y="689.4" font-size="6.8" text-anchor="end" fill="#111">−0.009</text>
<line x1="38.6" y1="724" x2="41.6" y2="724" stroke="#333" stroke-width="0.7"/>
<text x="35.1" y="726.4" font-size="6.8" text-anchor="end" fill="#111">−0.018</text>
<line x1="38.6" y1="760.5" x2="41.6" y2="760.5" stroke="#333" stroke-width="0.7"/>
<text x="35.1" y="762.9" font-size="6.8" text-anchor="end" fill="#111">−0.027</text>
<line x1="64.1" y1="797.9" x2="140.6" y2="797.9" stroke="#333" stroke-width="0.7"/>
<line x1="64.1" y1="797.9" x2="64.1" y2="800.9" stroke="#333" stroke-width="0.7"/>
<text x="64.1" y="811.7" font-size="6.8" text-anchor="middle" fill="#111">−0.82</text>
<line x1="83.2" y1="797.9" x2="83.2" y2="800.9" stroke="#333" stroke-width="0.7"/>
<line x1="102.3" y1="797.9" x2="102.3" y2="800.9" stroke="#333" stroke-width="0.7"/>
<text x="102.3" y="811.7" font-size="6.8" text-anchor="middle" fill="#111">0</text>
<line x1="121.3" y1="797.9" x2="121.3" y2="800.9" stroke="#333" stroke-width="0.7"/>
<text x="121.3" y="811.7" font-size="6.8" text-anchor="middle" fill="#111">0.41</text>
<line x1="140.6" y1="797.9" x2="140.6" y2="800.9" stroke="#333" stroke-width="0.7"/>
<text x="140.6" y="811.7" font-size="6.8" text-anchor="middle" fill="#111">0.82</text>
<text x="94.2" y="827.5" font-size="6.8" text-anchor="middle" fill="#111">eQTL effect sizes</text>
<line x1="50.8" y1="797.1" x2="119.3" y2="602" stroke="#f5a05a" stroke-width="1" stroke-dasharray="3 2.6"/>
<path d="M46.4 735.2H64.6M55.4 727.5V743.3" stroke="rgba(15,15,95,0.75)" stroke-width="1.1"/>
<path d="M49.3 744.4H65.7M57.4 738.9V752" stroke="rgba(15,15,95,0.75)" stroke-width="1.1"/>
<path d="M50 745.6H66.5M58.2 740V752.7" stroke="rgba(15,15,95,0.75)" stroke-width="1.1"/>
<path d="M52.6 770.8H70M62.4 763.8V777.4" stroke="rgba(15,15,95,0.75)" stroke-width="1.1"/>
<path d="M54 778H71M63.5 772V785" stroke="rgba(15,15,95,0.75)" stroke-width="1.1"/>
<path d="M51 781.3H68M59.1 775V789" stroke="rgba(15,15,95,0.75)" stroke-width="1.1"/>
<path d="M55 783H71M63.1 777V790" stroke="rgba(15,15,95,0.75)" stroke-width="1.1"/>
<circle cx="55.4" cy="735.2" r="1.7" fill="#0b0b5c"/>
<circle cx="57.4" cy="744.4" r="1.7" fill="#0b0b5c"/>
<circle cx="58.2" cy="745.6" r="1.7" fill="#0b0b5c"/>
<circle cx="62.4" cy="770.8" r="1.7" fill="#0b0b5c"/>
<circle cx="63.5" cy="778" r="1.7" fill="#0b0b5c"/>
<circle cx="59.1" cy="781.3" r="1.7" fill="#0b0b5c"/>
<circle cx="63.1" cy="783" r="1.7" fill="#0b0b5c"/>
<path d="M125.9 613H141.9M133.6 607V619.6" stroke="rgba(95,95,220,0.72)" stroke-width="0.9"/>
<circle cx="133.6" cy="613" r="1.7" fill="#5c5cd8"/>
<path d="M58.7 725.1H76.2M67.9 717.4V732.3" stroke="rgba(95,95,220,0.72)" stroke-width="0.9"/>
<circle cx="67.9" cy="725.1" r="1.7" fill="#5c5cd8"/>
<path d="M63.9 759H81.5M72.7 752V766.3" stroke="rgba(95,95,220,0.72)" stroke-width="0.9"/>
<circle cx="72.7" cy="759" r="1.7" fill="#5c5cd8"/>
<path d="M50.8 774.7H66.8M58.7 770.4V780.2" stroke="rgba(240,30,30,0.85)" stroke-width="1.1"/>
<path d="M58.7 770.82 L62.3 777.08 L55.1 777.08Z" fill="#fff" stroke="#f01818" stroke-width="1.2"/>
<path d="M58.7 773.38 L60.2 775.99 L57.2 775.99Z" fill="#f01818"/>
<text transform="translate(5.4,699.5) rotate(-90)" font-size="6.5" text-anchor="middle" fill="#111">GWAS effect sizes</text>
<text x="159.3" y="605" font-size="21" fill="#000">h</text>
<path d="M187.9 601.33 L190.1 605.15 L185.7 605.15Z" fill="#f01818"/>
<text x="193.6" y="606.1" font-size="6.9" fill="#111">top cis–eQTL</text>
<circle cx="187.9" cy="612.7" r="1.7" fill="#0b0b5c"/>
<text x="193.6" y="615.1" font-size="6.9" fill="#111">cis–eQTL</text>
<line x1="182.4" y1="622.9" x2="182.4" y2="773.9" stroke="#333" stroke-width="0.7"/>
<line x1="179.4" y1="622.9" x2="182.4" y2="622.9" stroke="#333" stroke-width="0.7"/>
<text x="175.9" y="625.3" font-size="6.8" text-anchor="end" fill="#111">0.024</text>
<line x1="179.4" y1="661" x2="182.4" y2="661" stroke="#333" stroke-width="0.7"/>
<text x="175.9" y="663.4" font-size="6.8" text-anchor="end" fill="#111">0</text>
<line x1="179.4" y1="698.4" x2="182.4" y2="698.4" stroke="#333" stroke-width="0.7"/>
<text x="175.9" y="700.8" font-size="6.8" text-anchor="end" fill="#111">−0.024</text>
<line x1="179.4" y1="735.8" x2="182.4" y2="735.8" stroke="#333" stroke-width="0.7"/>
<text x="175.9" y="738.2" font-size="6.8" text-anchor="end" fill="#111">−0.048</text>
<line x1="179.4" y1="773.9" x2="182.4" y2="773.9" stroke="#333" stroke-width="0.7"/>
<text x="175.9" y="776.3" font-size="6.8" text-anchor="end" fill="#111">−0.073</text>
<line x1="203.6" y1="799.3" x2="282.1" y2="799.3" stroke="#333" stroke-width="0.7"/>
<line x1="203.6" y1="799.3" x2="203.6" y2="802.3" stroke="#333" stroke-width="0.7"/>
<text x="203.6" y="813.1" font-size="6.8" text-anchor="middle" fill="#111">−0.82</text>
<line x1="223.5" y1="799.3" x2="223.5" y2="802.3" stroke="#333" stroke-width="0.7"/>
<line x1="242.7" y1="799.3" x2="242.7" y2="802.3" stroke="#333" stroke-width="0.7"/>
<text x="242.7" y="813.1" font-size="6.8" text-anchor="middle" fill="#111">0</text>
<line x1="262.6" y1="799.3" x2="262.6" y2="802.3" stroke="#333" stroke-width="0.7"/>
<text x="262.6" y="813.1" font-size="6.8" text-anchor="middle" fill="#111">0.41</text>
<line x1="282.1" y1="799.3" x2="282.1" y2="802.3" stroke="#333" stroke-width="0.7"/>
<text x="282.1" y="813.1" font-size="6.8" text-anchor="middle" fill="#111">0.82</text>
<text x="234.7" y="829" font-size="6.8" text-anchor="middle" fill="#111">eQTL effect sizes</text>
<line x1="187.9" y1="798.1" x2="268.3" y2="597.5" stroke="#f5a05a" stroke-width="1" stroke-dasharray="3 2.6"/>
<path d="M186 753.7H206M194.8 732V777" stroke="rgba(15,15,95,0.75)" stroke-width="1.1"/>
<path d="M186 759.4H205M194.8 739V781" stroke="rgba(15,15,95,0.75)" stroke-width="1.1"/>
<path d="M193 766.9H212M202.3 745V790" stroke="rgba(15,15,95,0.75)" stroke-width="1.1"/>
<path d="M190 764.4H210M199.3 745V787" stroke="rgba(15,15,95,0.75)" stroke-width="1.1"/>
<path d="M191 769H211M201 752V792" stroke="rgba(15,15,95,0.75)" stroke-width="1.1"/>
<circle cx="194.8" cy="753.7" r="1.7" fill="#0b0b5c"/>
<circle cx="194.8" cy="759.4" r="1.7" fill="#0b0b5c"/>
<circle cx="202.3" cy="766.9" r="1.7" fill="#0b0b5c"/>
<circle cx="199.3" cy="764.4" r="1.7" fill="#0b0b5c"/>
<circle cx="201" cy="769" r="1.7" fill="#0b0b5c"/>
<path d="M266.4 621.9H283.3M274.6 603.7V641.1" stroke="rgba(95,95,220,0.72)" stroke-width="0.9"/>
<circle cx="274.6" cy="621.9" r="1.5" fill="#fff" stroke="#5c5cd8" stroke-width="0.8"/>
<path d="M198.6 716.6H216.5M207.3 694.7V739.5" stroke="rgba(95,95,220,0.72)" stroke-width="0.9"/>
<circle cx="207.3" cy="716.6" r="1.7" fill="#5c5cd8"/>
<path d="M199 739.5H216M207.3 719.6V759.5" stroke="rgba(95,95,220,0.72)" stroke-width="0.9"/>
<circle cx="207.3" cy="739.5" r="1.7" fill="#5c5cd8"/>
<path d="M202.8 753.7H221M212.3 735.8V774.4" stroke="rgba(95,95,220,0.72)" stroke-width="0.9"/>
<circle cx="212.3" cy="753.7" r="1.7" fill="#5c5cd8"/>
<path d="M190.6 770.7H207.3M198.1 752V790.6" stroke="rgba(240,30,30,0.85)" stroke-width="1.1"/>
<path d="M198.1 766.82 L201.7 773.08 L194.5 773.08Z" fill="#fff" stroke="#f01818" stroke-width="1.2"/>
<path d="M198.1 769.38 L199.6 771.99 L196.6 771.99Z" fill="#f01818"/>
<text x="307.2" y="603.7" font-size="21" fill="#000">i</text>
<path d="M330.4 600.63 L332.6 604.45 L328.2 604.45Z" fill="#f01818"/>
<text x="336.1" y="605.4" font-size="6.9" fill="#111">top cis–eQTL</text>
<circle cx="330.4" cy="612" r="1.7" fill="#0b0b5c"/>
<text x="336.1" y="614.4" font-size="6.9" fill="#111">cis–eQTL</text>
<line x1="324.9" y1="622.4" x2="324.9" y2="770.7" stroke="#333" stroke-width="0.7"/>
<line x1="321.9" y1="622.4" x2="324.9" y2="622.4" stroke="#333" stroke-width="0.7"/>
<text x="318.4" y="624.8" font-size="6.8" text-anchor="end" fill="#111">0.031</text>
<line x1="321.9" y1="659.8" x2="324.9" y2="659.8" stroke="#333" stroke-width="0.7"/>
<text x="318.4" y="662.2" font-size="6.8" text-anchor="end" fill="#111">0</text>
<line x1="321.9" y1="696.7" x2="324.9" y2="696.7" stroke="#333" stroke-width="0.7"/>
<text x="318.4" y="699.1" font-size="6.8" text-anchor="end" fill="#111">−0.031</text>
<line x1="321.9" y1="734" x2="324.9" y2="734" stroke="#333" stroke-width="0.7"/>
<text x="318.4" y="736.4" font-size="6.8" text-anchor="end" fill="#111">−0.063</text>
<line x1="321.9" y1="770.7" x2="324.9" y2="770.7" stroke="#333" stroke-width="0.7"/>
<text x="318.4" y="773.1" font-size="6.8" text-anchor="end" fill="#111">−0.094</text>
<line x1="346.1" y1="796.3" x2="423.3" y2="796.3" stroke="#333" stroke-width="0.7"/>
<line x1="346.1" y1="796.3" x2="346.1" y2="799.3" stroke="#333" stroke-width="0.7"/>
<text x="346.1" y="810.1" font-size="6.8" text-anchor="middle" fill="#111">−0.82</text>
<line x1="365.2" y1="796.3" x2="365.2" y2="799.3" stroke="#333" stroke-width="0.7"/>
<line x1="384.7" y1="796.3" x2="384.7" y2="799.3" stroke="#333" stroke-width="0.7"/>
<text x="384.7" y="810.1" font-size="6.8" text-anchor="middle" fill="#111">0</text>
<line x1="404.1" y1="796.3" x2="404.1" y2="799.3" stroke="#333" stroke-width="0.7"/>
<text x="404.1" y="810.1" font-size="6.8" text-anchor="middle" fill="#111">0.41</text>
<line x1="423.3" y1="796.3" x2="423.3" y2="799.3" stroke="#333" stroke-width="0.7"/>
<text x="423.3" y="810.1" font-size="6.8" text-anchor="middle" fill="#111">0.82</text>
<text x="376.7" y="826.6" font-size="6.8" text-anchor="middle" fill="#111">eQTL effect sizes</text>
<line x1="326.9" y1="795.6" x2="412.1" y2="595.5" stroke="#f5a05a" stroke-width="1" stroke-dasharray="3 2.6"/>
<path d="M327.9 737.5H347.3M337.3 712.7V763.9" stroke="rgba(15,15,95,0.75)" stroke-width="1.1"/>
<path d="M327.9 743.3H346.8M337.3 725V765" stroke="rgba(15,15,95,0.75)" stroke-width="1.1"/>
<path d="M332 752H350M341.1 735V772" stroke="rgba(15,15,95,0.75)" stroke-width="1.1"/>
<path d="M331 757H349M340 738V778" stroke="rgba(15,15,95,0.75)" stroke-width="1.1"/>
<path d="M334 760H353M343 740V783" stroke="rgba(15,15,95,0.75)" stroke-width="1.1"/>
<path d="M334 765.7H353M344 745V788" stroke="rgba(15,15,95,0.75)" stroke-width="1.1"/>
<circle cx="337.3" cy="737.5" r="1.7" fill="#0b0b5c"/>
<circle cx="337.3" cy="743.3" r="1.7" fill="#0b0b5c"/>
<circle cx="341.1" cy="752" r="1.7" fill="#0b0b5c"/>
<circle cx="340" cy="757" r="1.7" fill="#0b0b5c"/>
<circle cx="343" cy="760" r="1.7" fill="#0b0b5c"/>
<circle cx="344" cy="765.7" r="1.7" fill="#0b0b5c"/>
<path d="M407.9 625.6H425M416.3 602.5V647.8" stroke="rgba(95,95,220,0.72)" stroke-width="0.9"/>
<circle cx="416.3" cy="625.6" r="1.7" fill="#5c5cd8"/>
<path d="M340.3 695.2H359M349.8 669.2V722" stroke="rgba(95,95,220,0.72)" stroke-width="0.9"/>
<circle cx="349.8" cy="695.2" r="1.7" fill="#5c5cd8"/>
<path d="M341 722.1H358M349.8 700V745" stroke="rgba(95,95,220,0.72)" stroke-width="0.9"/>
<circle cx="349.8" cy="722.1" r="1.7" fill="#5c5cd8"/>
<path d="M345.5 731.5H363.9M354.8 708.4V755.7" stroke="rgba(95,95,220,0.72)" stroke-width="0.9"/>
<circle cx="354.8" cy="731.5" r="1.7" fill="#5c5cd8"/>
<path d="M333.1 762H349.8M341.6 737V783.1" stroke="rgba(240,30,30,0.85)" stroke-width="1.1"/>
<path d="M341.6 758.12 L345.2 764.38 L338 764.38Z" fill="#fff" stroke="#f01818" stroke-width="1.2"/>
<path d="M341.6 760.68 L343.1 763.29 L340.1 763.29Z" fill="#f01818"/>
<text x="4.3" y="879" font-size="21" fill="#000">j</text>
<defs><linearGradient id="gj1" gradientUnits="userSpaceOnUse" x1="74" y1="0" x2="362" y2="0"><stop offset="0" stop-color="#e0e0e0"/><stop offset="0.45" stop-color="#555"/><stop offset="1" stop-color="#111"/></linearGradient><linearGradient id="gj2" gradientUnits="userSpaceOnUse" x1="74" y1="0" x2="280" y2="0"><stop offset="0" stop-color="#e0e0e0"/><stop offset="0.45" stop-color="#555"/><stop offset="1" stop-color="#111"/></linearGradient><linearGradient id="gj3" gradientUnits="userSpaceOnUse" x1="190" y1="0" x2="353" y2="0"><stop offset="0" stop-color="#e0e0e0"/><stop offset="0.4" stop-color="#666"/><stop offset="1" stop-color="#111"/></linearGradient><linearGradient id="gj4" gradientUnits="userSpaceOnUse" x1="117" y1="0" x2="161" y2="0"><stop offset="0" stop-color="#aaa"/><stop offset="1" stop-color="#111"/></linearGradient><linearGradient id="gj5" gradientUnits="userSpaceOnUse" x1="209" y1="0" x2="265" y2="0"><stop offset="0" stop-color="#aaa"/><stop offset="1" stop-color="#111"/></linearGradient></defs>
<path d="M73.9 889.4 C 145 857, 300 846, 358.5 886.6" fill="none" stroke="url(#gj1)" stroke-width="1.4"/>
<path d="M362.3 890.3 L354.3 887.6 L359.2 882.7 Z" fill="#111"/>
<path d="M73.9 889.4 C 120 866, 230 860, 276.6 886.6" fill="none" stroke="url(#gj2)" stroke-width="1.4"/>
<path d="M280.3 890.3 L272.2 887.9 L277 883 Z" fill="#111"/>
<path d="M188 903.5 C 225 928, 315 932, 349.5 910" fill="none" stroke="url(#gj3)" stroke-width="1.4"/>
<path d="M353.5 907.3 L349.5 914.2 L346.5 908.4 Z" fill="#111"/>
<line x1="117.2" y1="898.4" x2="156.5" y2="898.4" stroke="url(#gj4)" stroke-width="1.3"/>
<path d="M161 898.4 L154.5 895.1 L154.5 901.7 Z" fill="#111"/>
<line x1="209.8" y1="898.1" x2="260.5" y2="898.1" stroke="url(#gj5)" stroke-width="1.3"/>
<path d="M265 898.1 L258.5 894.8 L258.5 901.4 Z" fill="#111"/>
<line x1="297.3" y1="898.1" x2="336" y2="898.1" stroke="#222" stroke-width="1.2" stroke-dasharray="1 1"/>
<path d="M341 898.1 L334.5 894.8 L334.5 901.4 Z" fill="#111"/>
<text x="30.5" y="902.8" font-size="12.4" font-weight="bold" fill="#111">rs11687089-C</text>
<text x="164.2" y="902.8" font-size="12.6" font-weight="bold" font-style="italic" fill="#111">ADCY3</text>
<text x="269.2" y="902.7" font-size="12.6" font-weight="bold" fill="#111">BMI</text>
<text x="342.6" y="902.7" font-size="12" font-weight="bold" fill="#111">Obesity</text>
<text x="137" y="907.6" font-size="8.4" font-style="italic" text-anchor="middle" fill="#333">eQTL</text>
<text x="137.3" y="917.2" font-size="8.4" font-style="italic" text-anchor="middle" fill="#333">in monocytes</text>
<text x="176.3" y="879.8" font-size="8.4" font-style="italic" text-anchor="middle" fill="#333">GWAS</text>
<text x="251.7" y="872.2" font-size="8.4" font-style="italic" text-anchor="middle" fill="#333">GWAS</text>
<text x="232.6" y="907.6" font-size="8.4" font-style="italic" text-anchor="middle" fill="#333">Coloc &amp; MR</text>
<text x="315" y="907.6" font-size="8.4" font-style="italic" text-anchor="middle" fill="#333">BMI &gt; 30</text>
<text x="269.3" y="936.6" font-size="8.4" font-style="italic" text-anchor="middle" fill="#333">Coloc, MR &amp; literature</text>
</svg>
</body></html>
